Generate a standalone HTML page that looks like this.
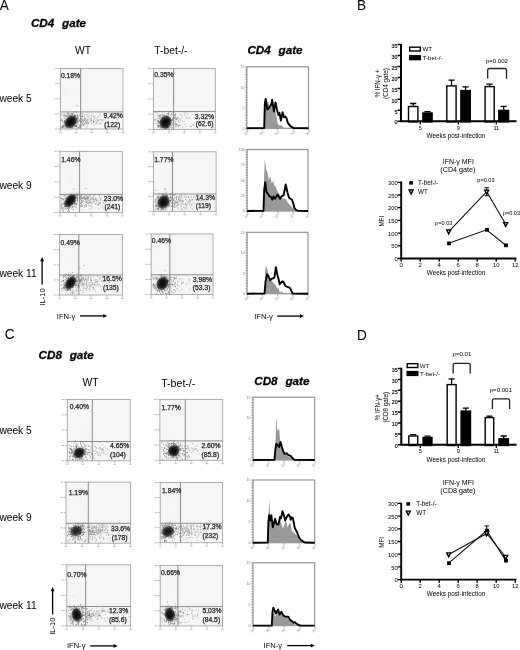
<!DOCTYPE html>
<html><head><meta charset="utf-8"><style>
html,body{margin:0;padding:0;background:#fff;}
body{width:520px;height:650px;overflow:hidden;}
svg{display:block;filter:blur(0.4px);font-family:"Liberation Sans",sans-serif;}
</style></head><body>
<svg width="520" height="650" viewBox="0 0 520 650">
<defs>
<radialGradient id="halo" cx="0.5" cy="0.5" r="0.5">
<stop offset="0" stop-color="#555" stop-opacity="0.7"/>
<stop offset="0.5" stop-color="#777" stop-opacity="0.35"/>
<stop offset="1" stop-color="#999" stop-opacity="0"/>
</radialGradient>
<radialGradient id="blob" cx="0.5" cy="0.5" r="0.5">
<stop offset="0" stop-color="#000" stop-opacity="1"/>
<stop offset="0.5" stop-color="#0a0a0a" stop-opacity="0.95"/>
<stop offset="0.8" stop-color="#222" stop-opacity="0.7"/>
<stop offset="1" stop-color="#333" stop-opacity="0.1"/>
</radialGradient>
</defs>
<text transform="translate(-0.2,9.5) scale(1,1.1)" font-size="13.6">A</text>
<text transform="translate(357.1,9.8) scale(1,1.1)" font-size="13.6">B</text>
<text transform="translate(4.7,339.2) scale(1,1.1)" font-size="13.6">C</text>
<text transform="translate(356.9,339.8) scale(1,1.1)" font-size="13.6">D</text>
<text x="30.9" y="27.2" font-size="11.7" font-weight="bold" font-style="italic" stroke="#000" stroke-width="0.3">CD4<tspan dx="1.3">&#160;&#160;gate</tspan></text>
<text x="38.5" y="359.4" font-size="11.7" font-weight="bold" font-style="italic" stroke="#000" stroke-width="0.3">CD8<tspan dx="1.3">&#160;&#160;gate</tspan></text>
<text x="247.4" y="53.6" font-size="11.7" font-weight="bold" font-style="italic" stroke="#000" stroke-width="0.3">CD4<tspan dx="1.3">&#160;&#160;gate</tspan></text>
<text x="254.2" y="384.8" font-size="11.7" font-weight="bold" font-style="italic" stroke="#000" stroke-width="0.3">CD8<tspan dx="1.3">&#160;&#160;gate</tspan></text>
<text x="75.0" y="53.8" font-size="10.3">WT</text>
<text x="154.3" y="54.4" font-size="10.3">T-bet-/-</text>
<text x="82.5" y="386.3" font-size="10.3">WT</text>
<text x="161.2" y="386.9" font-size="10.6">T-bet-/-</text>
<text x="-0.6" y="101.9" font-size="10.2">week 5</text>
<text x="-0.6" y="189.0" font-size="10.2">week 9</text>
<text x="-0.6" y="277.0" font-size="10.2">week 11</text>
<text x="-0.6" y="434.0" font-size="10.2">week 5</text>
<text x="-0.6" y="520.7" font-size="10.2">week 9</text>
<text x="-0.6" y="609.4" font-size="10.2">week 11</text>
<path d="M42.1,284.6V260.0" stroke="#000" stroke-width="1.3"/>
<path d="M40.2,261.3L42.1,257.0L44.0,261.3Z" fill="#000"/>
<text transform="translate(44.6,297.0) rotate(-90)" font-size="7.6" text-anchor="middle">IL-10</text>
<text x="56.8" y="318.6" font-size="7.6">IFN-&#947;</text>
<path d="M80.0,315.9H104.2" stroke="#000" stroke-width="1.3"/>
<path d="M103.2,314.0L107.2,315.9L103.2,317.8Z" fill="#000"/>
<text x="254.2" y="318.8" font-size="7.6">IFN-&#947;</text>
<path d="M277.2,316.1H301.0" stroke="#000" stroke-width="1.3"/>
<path d="M300.0,314.2L304.0,316.1L300.0,318.0Z" fill="#000"/>
<path d="M52.6,614.4V590.0" stroke="#000" stroke-width="1.3"/>
<path d="M50.7,591.3L52.6,587.0L54.5,591.3Z" fill="#000"/>
<text transform="translate(54.6,626.2) rotate(-90)" font-size="7.6" text-anchor="middle">IL-10</text>
<text x="66.9" y="648.4" font-size="7.6">IFN-&#947;</text>
<path d="M90.2,645.9H114.6" stroke="#000" stroke-width="1.3"/>
<path d="M113.6,644.0L117.6,645.9L113.6,647.8Z" fill="#000"/>
<text x="263.6" y="648.2" font-size="7.6">IFN-&#947;</text>
<path d="M287.3,645.6H311.8" stroke="#000" stroke-width="1.3"/>
<path d="M310.8,643.7L314.8,645.6L310.8,647.5Z" fill="#000"/>
<rect x="60.4" y="68.6" width="62.6" height="60.4" fill="#f6f6f6" stroke="#a0a0a0" stroke-width="0.85"/>
<path d="M58.2,129.0h2.2M54.8,129.0h2.6" stroke="#aaa" stroke-width="0.8"/>
<path d="M60.4,129.0v2.2M59.1,132.4h2.6" stroke="#aaa" stroke-width="0.8"/>
<path d="M58.2,113.9h2.2M54.8,113.9h2.6" stroke="#aaa" stroke-width="0.8"/>
<path d="M76.0,129.0v2.2M74.8,132.4h2.6" stroke="#aaa" stroke-width="0.8"/>
<path d="M58.2,98.8h2.2M54.8,98.8h2.6" stroke="#aaa" stroke-width="0.8"/>
<path d="M91.7,129.0v2.2M90.4,132.4h2.6" stroke="#aaa" stroke-width="0.8"/>
<path d="M58.2,83.7h2.2M54.8,83.7h2.6" stroke="#aaa" stroke-width="0.8"/>
<path d="M107.3,129.0v2.2M106.0,132.4h2.6" stroke="#aaa" stroke-width="0.8"/>
<path d="M58.2,68.6h2.2M54.8,68.6h2.6" stroke="#aaa" stroke-width="0.8"/>
<path d="M123.0,129.0v2.2M121.7,132.4h2.6" stroke="#aaa" stroke-width="0.8"/>
<path d="M95.6,124.1h0.75M82.0,115.5h0.75M86.0,122.6h0.75M105.4,123.2h0.75M88.5,122.0h0.75M91.4,123.0h0.75M84.1,120.1h0.75M83.8,123.2h0.75M82.7,119.6h0.75M87.3,119.8h0.75M116.9,119.7h0.75M93.2,124.9h0.75M108.6,113.1h0.75M85.5,119.1h0.75M83.1,121.7h0.75M84.2,116.3h0.75M105.4,123.5h0.75M99.4,114.1h0.75M81.8,121.2h0.75M88.7,117.0h0.75M96.8,121.2h0.75M84.6,118.7h0.75M100.6,124.4h0.75M111.4,117.5h0.75M85.7,118.8h0.75M81.4,116.4h0.75M92.8,120.7h0.75M90.5,119.5h0.75M81.1,121.9h0.75M88.1,116.3h0.75M84.8,118.9h0.75M85.3,123.9h0.75M91.2,117.5h0.75M82.9,121.8h0.75M99.6,119.4h0.75M91.2,120.4h0.75M88.0,124.0h0.75M111.7,114.2h0.75M98.3,124.4h0.75M113.2,118.2h0.75M100.2,122.6h0.75M82.5,124.4h0.75M91.0,120.4h0.75M84.3,125.1h0.75M90.3,120.2h0.75M86.1,115.0h0.75M107.8,118.1h0.75M83.2,120.3h0.75M114.0,125.8h0.75M94.1,117.2h0.75M101.0,120.3h0.75M85.0,121.4h0.75M86.1,120.9h0.75M85.8,122.7h0.75M85.9,123.5h0.75M119.2,114.6h0.75M113.1,123.3h0.75M87.4,116.7h0.75M85.3,123.2h0.75M91.2,118.7h0.75M91.2,123.0h0.75M107.5,121.9h0.75M97.8,116.9h0.75M94.8,116.2h0.75M107.7,126.7h0.75M82.2,120.6h0.75M93.5,119.1h0.75M96.3,122.5h0.75M83.2,116.1h0.75M95.7,118.4h0.75M97.4,117.1h0.75M85.9,127.4h0.75M108.3,121.5h0.75M102.6,120.8h0.75M84.8,119.8h0.75M87.0,121.7h0.75M104.3,123.5h0.75M107.9,121.7h0.75M91.5,120.3h0.75M93.2,121.2h0.75M107.5,121.5h0.75M86.5,124.2h0.75M90.8,116.0h0.75M87.3,126.2h0.75M105.5,121.5h0.75M92.9,116.2h0.75M89.9,121.2h0.75M93.0,121.5h0.75M81.6,125.8h0.75M84.4,114.2h0.75M85.0,121.5h0.75M93.3,116.5h0.75M92.6,122.3h0.75M98.3,120.7h0.75M87.9,119.6h0.75M89.7,118.2h0.75M82.7,118.5h0.75M114.0,116.0h0.75M84.2,120.0h0.75M82.6,121.0h0.75M84.0,123.9h0.75M97.8,120.2h0.75M84.0,118.7h0.75M96.3,122.9h0.75M111.2,117.8h0.75M93.4,122.4h0.75M93.6,121.9h0.75M83.3,123.9h0.75M81.8,116.2h0.75M87.3,120.1h0.75M87.6,114.3h0.75M114.0,118.3h0.75M87.8,123.3h0.75M93.6,122.1h0.75M85.9,120.6h0.75M81.3,117.8h0.75M81.6,118.9h0.75M95.3,121.1h0.75M81.7,119.9h0.75M82.1,116.6h0.75M99.9,115.3h0.75M81.1,124.5h0.75M81.7,122.2h0.75M84.3,117.8h0.75M84.6,120.6h0.75M88.0,123.4h0.75M93.9,119.0h0.75M97.6,122.8h0.75M88.5,122.6h0.75M81.3,118.1h0.75M101.3,119.9h0.75M111.3,124.9h0.75M117.6,124.0h0.75M84.8,121.9h0.75M99.6,123.5h0.75M102.6,119.5h0.75M98.2,120.2h0.75M105.3,117.9h0.75M97.3,119.6h0.75M96.7,120.8h0.75M83.3,124.7h0.75" stroke="#8c8c8c" stroke-width="0.75"/>
<ellipse cx="70.8" cy="121.8" rx="11.0" ry="8.2" transform="rotate(-45 70.8 121.8)" fill="url(#halo)"/>
<path d="M64.6,122.0h0.8M64.8,125.0h0.8M65.8,119.0h0.8M65.5,125.8h0.8M71.7,127.9h0.8M76.6,116.1h0.8M68.2,114.4h0.8M79.2,125.3h0.8M62.3,126.6h0.8M71.3,127.9h0.8M64.5,115.5h0.8M76.6,119.1h0.8M74.0,116.1h0.8M71.0,113.7h0.8M78.0,122.1h0.8M75.4,126.0h0.8M69.8,113.7h0.8M77.2,123.0h0.8M77.1,126.9h0.8M74.5,125.5h0.8M65.5,125.7h0.8M74.6,126.5h0.8M70.9,116.1h0.8M77.1,121.2h0.8M63.5,116.5h0.8M61.8,126.7h0.8M77.0,118.4h0.8M73.0,112.1h0.8M63.5,126.6h0.8M72.5,114.7h0.8M75.8,117.7h0.8M73.6,114.4h0.8M76.4,112.4h0.8M80.3,113.6h0.8M81.4,121.4h0.8M76.5,118.7h0.8M83.2,125.3h0.8M74.4,116.1h0.8M78.6,127.7h0.8M76.1,126.6h0.8M80.0,113.2h0.8M81.6,116.3h0.8M69.7,116.3h0.8M65.1,116.2h0.8M77.3,118.2h0.8M76.7,114.9h0.8M62.2,121.5h0.8M75.8,125.1h0.8M65.8,116.5h0.8M61.9,126.1h0.8M67.7,113.0h0.8M87.1,122.6h0.8M62.1,126.2h0.8M67.5,115.8h0.8M80.7,125.9h0.8M80.6,119.4h0.8M74.6,125.4h0.8M74.6,126.5h0.8M69.1,115.4h0.8M76.0,125.7h0.8M63.0,125.4h0.8M61.3,120.1h0.8M80.6,121.8h0.8M79.6,120.0h0.8M64.7,113.9h0.8M79.8,126.8h0.8M77.5,121.6h0.8M63.6,114.3h0.8M74.6,115.9h0.8M65.8,127.5h0.8M63.8,118.2h0.8M61.6,127.6h0.8M66.8,114.0h0.8M81.8,113.7h0.8M79.3,127.2h0.8M61.7,127.0h0.8M76.5,105.5h0.8M74.4,116.4h0.8M77.2,120.8h0.8M79.5,125.9h0.8M64.2,122.1h0.8M91.5,114.9h0.8M72.2,113.6h0.8M75.1,125.8h0.8M61.8,120.1h0.8M63.4,125.2h0.8M61.8,127.3h0.8M78.1,128.1h0.8M75.7,125.6h0.8M62.4,114.1h0.8M71.9,114.2h0.8M70.5,115.0h0.8M69.4,115.0h0.8M79.3,115.2h0.8M75.0,111.5h0.8M71.5,127.3h0.8M77.8,118.3h0.8M74.6,115.7h0.8M70.9,116.2h0.8M79.7,114.9h0.8M82.1,123.5h0.8M72.7,127.7h0.8M63.5,122.5h0.8M64.0,121.3h0.8M79.2,120.3h0.8M77.1,115.3h0.8M68.0,116.3h0.8M67.3,112.3h0.8M64.1,120.4h0.8M77.7,119.1h0.8M77.3,116.3h0.8M62.8,126.9h0.8M78.0,116.9h0.8M66.3,115.4h0.8M78.0,127.0h0.8M78.9,120.6h0.8M61.4,120.1h0.8M63.8,115.5h0.8M61.4,115.1h0.8M63.9,121.8h0.8M76.2,128.2h0.8M63.6,127.0h0.8M76.1,126.7h0.8M65.8,126.3h0.8M74.9,115.6h0.8M66.8,116.1h0.8M77.6,124.5h0.8M67.5,113.1h0.8M68.4,117.1h0.8" stroke="#6a6a6a" stroke-width="0.8"/>
<path d="M62.7,93.4h0.6M63.2,87.8h0.6M66.1,90.3h0.6M64.6,94.4h0.6M74.2,90.5h0.6M78.3,105.8h0.6" stroke="#c8c8c8" stroke-width="0.6"/>
<ellipse cx="70.8" cy="121.8" rx="7.8" ry="5.8" transform="rotate(-45 70.8 121.8)" fill="url(#blob)" fill-opacity="1.0"/>
<path d="M68.5,123.2h0.8M68.0,119.8h0.8M73.9,118.5h0.8M74.1,123.1h0.8M68.2,118.5h0.8M71.9,117.1h0.8M66.9,125.3h0.8M75.9,122.3h0.8M69.4,127.2h0.8M69.3,121.4h0.8M72.6,121.7h0.8M70.3,122.7h0.8M72.1,125.1h0.8M71.1,118.9h0.8M73.8,121.9h0.8M67.3,120.3h0.8M73.9,119.0h0.8M65.5,122.1h0.8M68.8,124.2h0.8M69.2,119.8h0.8M66.2,125.1h0.8M69.7,124.9h0.8M70.0,120.8h0.8M70.3,123.3h0.8M74.4,122.8h0.8M72.7,122.0h0.8M71.3,116.3h0.8M71.5,124.9h0.8M72.8,121.1h0.8M71.0,125.8h0.8M74.7,119.8h0.8M73.0,125.6h0.8M74.8,123.3h0.8M67.1,125.9h0.8M70.1,127.0h0.8M75.8,118.7h0.8M71.4,123.0h0.8M68.4,124.8h0.8M71.3,123.6h0.8M73.0,117.0h0.8M69.5,120.8h0.8M73.6,116.7h0.8M72.0,118.2h0.8M68.5,121.7h0.8M67.1,122.9h0.8M74.7,119.0h0.8M75.1,122.0h0.8M69.4,118.7h0.8M66.6,121.7h0.8M71.7,117.8h0.8M70.3,118.4h0.8M66.0,122.5h0.8M70.1,118.2h0.8M68.4,125.2h0.8M72.8,123.8h0.8M70.0,118.3h0.8M67.5,120.4h0.8M66.3,123.5h0.8M72.2,121.8h0.8M66.3,123.0h0.8M68.4,117.9h0.8M72.0,126.1h0.8M67.5,119.9h0.8M72.9,120.4h0.8M69.5,125.4h0.8M69.9,121.3h0.8M66.7,124.4h0.8M72.4,124.6h0.8M66.2,123.6h0.8M72.2,126.4h0.8M72.0,120.8h0.8M69.7,123.5h0.8" stroke="#222" stroke-width="0.8" stroke-opacity="0.8"/>
<path d="M80.6,68.6V129.0M60.4,111.9H123.0" stroke="#7a7a7a" stroke-width="0.85"/>
<text x="60.9" y="77.8" font-size="6.8" fill="#222" stroke="#222" stroke-width="0.25">0.18%</text>
<text x="103.5" y="118.0" font-size="6.8" fill="#222" stroke="#222" stroke-width="0.25">9.42%</text>
<text x="104.3" y="126.6" font-size="6.8" fill="#222" stroke="#222" stroke-width="0.25">(122)</text>
<rect x="153.6" y="68.4" width="61.7" height="61.0" fill="#f6f6f6" stroke="#a0a0a0" stroke-width="0.85"/>
<path d="M151.4,129.4h2.2M148.0,129.4h2.6" stroke="#aaa" stroke-width="0.8"/>
<path d="M153.6,129.4v2.2M152.3,132.8h2.6" stroke="#aaa" stroke-width="0.8"/>
<path d="M151.4,114.2h2.2M148.0,114.2h2.6" stroke="#aaa" stroke-width="0.8"/>
<path d="M169.0,129.4v2.2M167.7,132.8h2.6" stroke="#aaa" stroke-width="0.8"/>
<path d="M151.4,98.9h2.2M148.0,98.9h2.6" stroke="#aaa" stroke-width="0.8"/>
<path d="M184.4,129.4v2.2M183.1,132.8h2.6" stroke="#aaa" stroke-width="0.8"/>
<path d="M151.4,83.7h2.2M148.0,83.7h2.6" stroke="#aaa" stroke-width="0.8"/>
<path d="M199.9,129.4v2.2M198.6,132.8h2.6" stroke="#aaa" stroke-width="0.8"/>
<path d="M151.4,68.4h2.2M148.0,68.4h2.6" stroke="#aaa" stroke-width="0.8"/>
<path d="M215.3,129.4v2.2M214.0,132.8h2.6" stroke="#aaa" stroke-width="0.8"/>
<path d="M175.7,119.1h0.75M190.2,126.1h0.75M177.3,124.6h0.75M180.7,119.0h0.75M198.7,120.0h0.75M186.4,117.9h0.75M179.9,120.9h0.75M196.1,118.7h0.75M175.0,117.5h0.75M175.2,122.1h0.75M198.6,123.0h0.75M184.5,124.6h0.75M187.0,114.4h0.75M181.4,114.9h0.75M176.9,121.8h0.75M192.6,124.4h0.75M199.6,122.5h0.75M179.0,125.0h0.75M181.7,116.7h0.75M180.3,125.4h0.75M190.0,126.9h0.75M177.5,126.1h0.75M184.7,115.3h0.75M185.9,126.5h0.75M179.3,125.5h0.75M178.6,122.5h0.75M177.7,118.0h0.75M178.4,120.5h0.75M184.4,113.6h0.75M174.6,124.1h0.75M179.6,114.8h0.75M191.1,126.4h0.75M182.3,127.7h0.75M181.9,121.0h0.75M205.3,117.5h0.75M206.8,122.8h0.75M175.6,120.1h0.75M192.6,125.1h0.75M174.2,118.1h0.75M174.2,117.5h0.75M175.4,126.2h0.75M212.9,117.8h0.75M179.4,118.5h0.75M189.3,117.8h0.75M183.8,121.5h0.75M185.6,118.3h0.75M187.5,117.8h0.75M212.8,120.2h0.75M178.3,125.1h0.75M174.8,119.4h0.75" stroke="#8c8c8c" stroke-width="0.75"/>
<ellipse cx="165.6" cy="122.3" rx="10.2" ry="8.8" transform="rotate(-60 165.6 122.3)" fill="url(#halo)"/>
<path d="M160.3,120.4h0.8M174.9,114.9h0.8M171.9,120.4h0.8M157.2,121.5h0.8M174.4,122.1h0.8M165.7,128.5h0.8M158.5,125.3h0.8M159.0,115.8h0.8M163.3,115.9h0.8M169.9,111.6h0.8M162.3,112.0h0.8M162.6,117.3h0.8M171.3,119.9h0.8M158.6,118.9h0.8M172.0,118.8h0.8M161.4,118.2h0.8M157.5,113.8h0.8M159.7,118.0h0.8M173.3,118.1h0.8M157.6,126.1h0.8M174.3,115.7h0.8M173.1,111.7h0.8M168.3,128.3h0.8M158.0,115.6h0.8M170.5,115.3h0.8M161.6,117.9h0.8M176.3,119.4h0.8M185.5,112.1h0.8M166.5,115.5h0.8M156.4,112.1h0.8M156.7,123.6h0.8M161.9,115.3h0.8M164.6,115.3h0.8M159.8,126.8h0.8M159.0,125.9h0.8M174.7,115.9h0.8M160.7,115.3h0.8M172.1,120.3h0.8M154.5,119.5h0.8M157.4,125.7h0.8M173.8,115.0h0.8M163.1,117.1h0.8M177.3,117.4h0.8M158.1,121.1h0.8M178.1,126.0h0.8M162.1,117.1h0.8M160.8,118.0h0.8M166.6,113.7h0.8M155.3,119.6h0.8M167.6,127.5h0.8M170.4,125.5h0.8M175.2,124.3h0.8M167.9,114.0h0.8M171.9,123.8h0.8M174.5,118.2h0.8M163.0,111.8h0.8M158.8,111.3h0.8M172.2,125.2h0.8M161.4,127.4h0.8M158.2,125.6h0.8M176.4,124.1h0.8M169.8,127.4h0.8M176.0,124.2h0.8M162.0,117.7h0.8M158.8,122.7h0.8M162.1,114.1h0.8M172.7,112.8h0.8M171.1,128.2h0.8M157.2,120.8h0.8M162.2,117.9h0.8M172.9,103.2h0.8M167.5,113.5h0.8M175.7,117.9h0.8M159.7,121.8h0.8M158.7,122.8h0.8M158.1,127.3h0.8M172.1,127.6h0.8M154.9,123.4h0.8M156.9,126.9h0.8M162.8,117.7h0.8M158.2,121.2h0.8M171.1,113.9h0.8M164.4,115.3h0.8M173.1,118.8h0.8M158.2,126.7h0.8M158.2,120.8h0.8M163.7,116.4h0.8M155.2,112.7h0.8M160.1,121.9h0.8M166.0,116.5h0.8M158.0,122.6h0.8M166.5,116.2h0.8M158.2,122.2h0.8M175.2,114.1h0.8M159.6,116.6h0.8M173.3,117.9h0.8M159.7,126.2h0.8M157.0,118.4h0.8M172.0,114.8h0.8M176.0,118.7h0.8M171.8,120.3h0.8M160.8,118.9h0.8M176.0,125.9h0.8M159.3,117.1h0.8M154.5,120.7h0.8M168.1,114.6h0.8M175.3,123.8h0.8M177.6,119.0h0.8M161.6,126.7h0.8M168.0,112.9h0.8M159.9,114.7h0.8M160.3,127.8h0.8M157.6,116.0h0.8M159.8,115.9h0.8M175.2,126.3h0.8M159.0,121.9h0.8M169.0,111.4h0.8" stroke="#6a6a6a" stroke-width="0.8"/>
<path d="M159.7,106.5h0.6M164.8,100.3h0.6M166.9,85.1h0.6M171.4,105.1h0.6M158.1,97.0h0.6M164.6,89.4h0.6" stroke="#c8c8c8" stroke-width="0.6"/>
<ellipse cx="165.6" cy="122.3" rx="7.2" ry="6.2" transform="rotate(-60 165.6 122.3)" fill="url(#blob)" fill-opacity="1.0"/>
<path d="M162.1,119.9h0.8M164.6,122.1h0.8M160.7,124.5h0.8M163.2,125.4h0.8M167.9,124.0h0.8M164.4,120.0h0.8M164.1,125.2h0.8M165.9,124.9h0.8M162.0,126.3h0.8M163.6,123.0h0.8M168.3,121.5h0.8M164.8,121.0h0.8M167.5,125.6h0.8M167.6,116.8h0.8M166.1,128.0h0.8M164.7,121.2h0.8M169.9,119.2h0.8M165.6,116.8h0.8M164.5,117.4h0.8M161.3,124.3h0.8M162.2,119.5h0.8M167.8,119.6h0.8M170.3,123.8h0.8M167.4,117.5h0.8M160.3,122.8h0.8M162.8,126.5h0.8M165.0,124.2h0.8M168.4,125.8h0.8M168.8,120.3h0.8M167.2,122.6h0.8M163.6,125.2h0.8M166.5,119.7h0.8M169.1,121.2h0.8M169.3,123.7h0.8M166.5,123.4h0.8M168.2,118.2h0.8M166.4,124.3h0.8M164.1,125.9h0.8M165.4,125.9h0.8M167.8,123.5h0.8M167.9,124.4h0.8M167.6,126.9h0.8M168.4,121.0h0.8M161.5,120.5h0.8M170.5,120.9h0.8M164.6,125.3h0.8M160.5,121.5h0.8M162.7,119.2h0.8M162.9,127.2h0.8M162.9,122.5h0.8M167.0,117.6h0.8M166.9,127.1h0.8M165.4,120.1h0.8M170.0,120.0h0.8M165.4,125.5h0.8M166.1,123.3h0.8M168.9,123.4h0.8M164.7,119.8h0.8M167.2,127.3h0.8M162.0,126.0h0.8M167.6,126.9h0.8M164.8,118.5h0.8M161.7,121.1h0.8M165.0,125.2h0.8M166.6,124.5h0.8M162.0,121.5h0.8M161.7,119.8h0.8M163.5,125.3h0.8M163.1,119.8h0.8M163.5,118.1h0.8M160.7,124.9h0.8M163.3,126.1h0.8M167.2,126.1h0.8M167.4,118.9h0.8M164.8,125.5h0.8M163.2,124.6h0.8M167.7,124.3h0.8M163.6,119.4h0.8M166.2,118.9h0.8M161.4,121.7h0.8M165.3,127.5h0.8M166.6,123.6h0.8M168.9,121.2h0.8M167.6,116.8h0.8" stroke="#222" stroke-width="0.8" stroke-opacity="0.8"/>
<path d="M173.6,68.4V129.4M153.6,111.6H215.3" stroke="#7a7a7a" stroke-width="0.85"/>
<text x="154.3" y="76.9" font-size="6.8" fill="#222" stroke="#222" stroke-width="0.25">0.35%</text>
<text x="194.8" y="118.6" font-size="6.8" fill="#222" stroke="#222" stroke-width="0.25">3.32%</text>
<text x="195.8" y="125.9" font-size="6.8" fill="#222" stroke="#222" stroke-width="0.25">(62.6)</text>
<rect x="60.0" y="151.3" width="62.5" height="61.2" fill="#f6f6f6" stroke="#a0a0a0" stroke-width="0.85"/>
<path d="M57.8,212.5h2.2M54.4,212.5h2.6" stroke="#aaa" stroke-width="0.8"/>
<path d="M60.0,212.5v2.2M58.7,215.9h2.6" stroke="#aaa" stroke-width="0.8"/>
<path d="M57.8,197.2h2.2M54.4,197.2h2.6" stroke="#aaa" stroke-width="0.8"/>
<path d="M75.6,212.5v2.2M74.3,215.9h2.6" stroke="#aaa" stroke-width="0.8"/>
<path d="M57.8,181.9h2.2M54.4,181.9h2.6" stroke="#aaa" stroke-width="0.8"/>
<path d="M91.2,212.5v2.2M90.0,215.9h2.6" stroke="#aaa" stroke-width="0.8"/>
<path d="M57.8,166.6h2.2M54.4,166.6h2.6" stroke="#aaa" stroke-width="0.8"/>
<path d="M106.9,212.5v2.2M105.6,215.9h2.6" stroke="#aaa" stroke-width="0.8"/>
<path d="M57.8,151.3h2.2M54.4,151.3h2.6" stroke="#aaa" stroke-width="0.8"/>
<path d="M122.5,212.5v2.2M121.2,215.9h2.6" stroke="#aaa" stroke-width="0.8"/>
<path d="M99.2,197.2h0.75M84.7,198.7h0.75M86.0,198.6h0.75M86.2,198.1h0.75M83.7,196.7h0.75M87.1,197.9h0.75M92.5,198.6h0.75M84.0,198.7h0.75M80.0,206.3h0.75M92.3,197.4h0.75M89.0,201.9h0.75M88.1,198.4h0.75M80.6,203.9h0.75M99.4,195.5h0.75M100.0,203.4h0.75M82.8,200.0h0.75M109.2,195.5h0.75M98.6,200.8h0.75M90.4,197.7h0.75M85.3,199.7h0.75M112.7,200.4h0.75M87.1,198.7h0.75M100.1,198.7h0.75M114.6,200.6h0.75M86.0,195.4h0.75M96.2,201.0h0.75M81.1,206.5h0.75M81.8,201.1h0.75M84.3,205.7h0.75M87.8,198.0h0.75M113.4,206.8h0.75M103.3,202.8h0.75M81.2,201.1h0.75M93.2,196.2h0.75M92.7,197.0h0.75M86.0,200.6h0.75M90.4,199.6h0.75M100.0,202.9h0.75M91.0,198.2h0.75M80.9,198.6h0.75M88.3,196.2h0.75M95.6,199.1h0.75M86.2,206.1h0.75M108.7,197.0h0.75M95.7,204.2h0.75M96.4,199.8h0.75M91.3,208.4h0.75M99.7,202.9h0.75M84.1,207.2h0.75M88.3,205.5h0.75M85.2,198.8h0.75M102.0,206.1h0.75M82.7,198.3h0.75M88.6,201.7h0.75M90.2,195.6h0.75M116.4,210.2h0.75M84.7,197.2h0.75M103.5,203.3h0.75M81.8,201.0h0.75M104.7,200.2h0.75M97.5,200.1h0.75M83.6,197.5h0.75M83.8,198.2h0.75M120.7,197.8h0.75M80.7,203.1h0.75M91.3,206.9h0.75M88.4,203.3h0.75M108.8,200.2h0.75M97.6,204.3h0.75M94.5,200.3h0.75M93.0,198.4h0.75M89.7,203.0h0.75M103.6,208.9h0.75M89.3,209.0h0.75M80.0,197.9h0.75M110.3,202.8h0.75M90.8,201.2h0.75M98.3,204.1h0.75M94.2,195.5h0.75M109.2,204.0h0.75M81.0,202.3h0.75M103.1,200.8h0.75M96.1,198.4h0.75M92.2,202.9h0.75M81.8,202.4h0.75M108.0,204.5h0.75M84.0,196.1h0.75M94.8,199.8h0.75M91.8,198.8h0.75M105.6,198.8h0.75M98.0,204.4h0.75M86.5,199.1h0.75M92.8,201.9h0.75M86.8,202.8h0.75M87.3,196.8h0.75M112.7,197.2h0.75M96.3,200.5h0.75M116.1,196.2h0.75M105.6,209.5h0.75M87.7,200.1h0.75M84.5,199.4h0.75M83.2,200.3h0.75M93.2,199.1h0.75M84.3,195.6h0.75M96.4,202.0h0.75M89.6,202.7h0.75M103.6,203.2h0.75M98.5,205.1h0.75M82.4,198.1h0.75M101.6,207.8h0.75M85.2,199.2h0.75M97.0,204.9h0.75M85.6,196.1h0.75M92.7,201.9h0.75M86.4,195.7h0.75M81.6,200.4h0.75M81.0,196.8h0.75M84.0,196.7h0.75M81.3,197.6h0.75M81.6,206.2h0.75M95.4,199.5h0.75M101.9,200.8h0.75M87.0,197.7h0.75M80.1,197.6h0.75M87.7,197.5h0.75M81.7,195.5h0.75M87.8,199.1h0.75M115.8,203.6h0.75M91.5,203.0h0.75M87.1,196.6h0.75M80.4,196.3h0.75M87.8,203.0h0.75M89.8,206.0h0.75M86.0,205.8h0.75M98.8,203.2h0.75M89.2,202.2h0.75M82.5,209.7h0.75M89.3,195.7h0.75M88.1,197.9h0.75M93.1,200.2h0.75M102.3,196.8h0.75M82.1,206.2h0.75M98.9,196.6h0.75M85.6,202.1h0.75M117.6,200.7h0.75M88.7,196.8h0.75M94.0,201.4h0.75M85.5,197.4h0.75M90.2,203.3h0.75M85.5,204.2h0.75M81.8,205.4h0.75M90.1,199.3h0.75M88.8,200.9h0.75M80.7,200.3h0.75M93.9,198.4h0.75M87.1,198.0h0.75M84.1,205.5h0.75M85.4,197.5h0.75M100.1,198.9h0.75M83.6,201.6h0.75M89.0,205.8h0.75M95.3,203.8h0.75M98.1,204.6h0.75M88.9,200.2h0.75M80.8,202.9h0.75M80.6,206.1h0.75M98.6,208.3h0.75M85.9,202.6h0.75M85.3,198.1h0.75M87.0,202.8h0.75M87.9,197.3h0.75M94.8,204.0h0.75M112.0,200.0h0.75M87.7,200.5h0.75M100.2,200.1h0.75M86.4,201.7h0.75M89.5,197.0h0.75M88.5,203.1h0.75M81.9,202.0h0.75M116.5,197.8h0.75M82.0,197.7h0.75M80.2,199.4h0.75M91.0,204.1h0.75M111.3,197.6h0.75M86.2,204.6h0.75M85.1,205.1h0.75M80.0,198.9h0.75M95.2,197.9h0.75M105.0,202.7h0.75M86.7,199.2h0.75M112.9,207.1h0.75M94.2,199.2h0.75M115.4,199.6h0.75M98.0,203.0h0.75M84.0,198.7h0.75M108.4,204.1h0.75M90.6,199.5h0.75M100.8,198.3h0.75M91.7,199.0h0.75M90.3,201.3h0.75M80.7,205.5h0.75M81.4,204.2h0.75M98.8,202.6h0.75M99.6,203.3h0.75M85.2,206.6h0.75M94.2,201.9h0.75M91.5,206.8h0.75M82.1,198.4h0.75M86.4,197.7h0.75M99.9,199.6h0.75M85.5,199.8h0.75M85.7,202.5h0.75M86.7,202.0h0.75M80.1,197.4h0.75M84.5,201.8h0.75M106.2,201.0h0.75" stroke="#8c8c8c" stroke-width="0.75"/>
<ellipse cx="70.2" cy="200.6" rx="11.6" ry="6.8" transform="rotate(-50 70.2 200.6)" fill="url(#halo)"/>
<path d="M64.6,205.1h0.8M65.9,197.3h0.8M81.3,198.9h0.8M72.2,206.9h0.8M64.8,204.5h0.8M62.1,198.5h0.8M78.4,194.8h0.8M74.0,204.0h0.8M65.4,205.9h0.8M70.1,194.6h0.8M72.5,206.7h0.8M78.9,197.6h0.8M63.8,202.8h0.8M76.2,198.8h0.8M71.1,194.0h0.8M76.8,194.8h0.8M64.6,198.1h0.8M61.5,194.8h0.8M71.7,194.5h0.8M73.4,194.8h0.8M68.2,206.7h0.8M61.4,205.3h0.8M76.0,195.0h0.8M67.6,194.1h0.8M64.3,206.6h0.8M63.8,203.4h0.8M74.7,206.6h0.8M79.2,198.3h0.8M62.0,207.9h0.8M79.3,200.8h0.8M69.2,207.4h0.8M85.7,188.5h0.8M82.4,197.8h0.8M62.6,208.3h0.8M62.7,199.9h0.8M78.3,194.2h0.8M64.3,195.8h0.8M69.1,211.2h0.8M64.8,208.7h0.8M67.3,196.9h0.8M75.6,200.5h0.8M69.1,207.9h0.8M65.2,206.6h0.8M73.7,189.0h0.8M60.9,208.2h0.8M61.8,208.1h0.8M76.0,204.8h0.8M61.1,204.8h0.8M75.8,207.7h0.8M65.7,198.9h0.8M62.4,210.8h0.8M80.1,196.3h0.8M63.5,210.0h0.8M63.7,195.6h0.8M63.2,210.7h0.8M63.1,203.8h0.8M66.6,207.9h0.8M65.9,206.1h0.8M68.3,210.1h0.8M80.2,203.5h0.8M65.4,195.6h0.8M61.6,199.8h0.8M65.8,198.5h0.8M79.6,194.0h0.8M61.0,198.4h0.8M64.6,203.5h0.8M77.4,201.8h0.8M68.0,208.2h0.8M61.0,205.0h0.8M61.5,207.3h0.8M73.6,206.1h0.8M74.7,203.4h0.8M63.3,199.5h0.8M69.9,206.5h0.8M71.6,207.5h0.8M61.8,203.5h0.8M77.2,200.3h0.8M77.2,199.0h0.8M76.0,205.0h0.8M76.5,203.7h0.8M68.2,209.5h0.8M70.0,195.3h0.8M69.0,194.9h0.8M74.4,202.0h0.8M68.6,206.4h0.8M63.8,201.2h0.8M66.8,208.5h0.8M64.7,203.5h0.8M82.7,197.8h0.8M75.6,203.2h0.8M77.0,197.3h0.8M65.6,205.8h0.8M76.6,198.2h0.8M66.4,198.1h0.8M71.6,208.3h0.8M73.1,209.7h0.8M69.7,206.3h0.8M76.3,195.5h0.8M77.6,198.1h0.8M70.0,195.0h0.8M64.2,206.1h0.8M76.6,193.3h0.8M68.2,210.9h0.8M68.9,208.2h0.8M75.1,204.1h0.8M77.0,195.1h0.8M80.7,196.3h0.8M75.7,197.3h0.8M67.3,211.4h0.8M75.6,203.3h0.8M75.0,201.1h0.8M68.7,196.0h0.8M77.5,199.9h0.8M80.9,195.4h0.8M68.4,196.3h0.8M74.9,203.3h0.8M74.1,203.3h0.8M76.6,195.9h0.8" stroke="#6a6a6a" stroke-width="0.8"/>
<path d="M76.9,190.0h0.6M71.3,179.2h0.6M67.5,180.4h0.6M69.6,182.2h0.6M77.8,185.3h0.6M64.3,168.3h0.6" stroke="#c8c8c8" stroke-width="0.6"/>
<ellipse cx="70.2" cy="200.6" rx="8.2" ry="4.8" transform="rotate(-50 70.2 200.6)" fill="url(#blob)" fill-opacity="1.0"/>
<path d="M72.6,200.8h0.8M69.9,203.0h0.8M70.3,203.2h0.8M74.1,201.3h0.8M69.3,199.0h0.8M72.5,203.9h0.8M73.9,201.6h0.8M73.8,199.0h0.8M69.0,205.5h0.8M69.4,204.1h0.8M71.7,204.1h0.8M71.3,201.4h0.8M65.7,203.9h0.8M73.7,201.2h0.8M69.6,200.3h0.8M70.5,199.3h0.8M69.7,197.6h0.8M69.3,204.7h0.8M68.9,199.1h0.8M69.4,200.6h0.8M68.4,199.3h0.8M72.6,203.7h0.8M69.9,198.7h0.8M67.8,204.0h0.8M74.2,195.3h0.8M74.7,200.7h0.8M73.9,197.9h0.8M69.4,200.5h0.8M70.8,202.4h0.8M71.7,199.8h0.8M74.0,198.4h0.8M68.7,199.6h0.8M67.0,200.8h0.8M66.5,202.5h0.8M73.4,195.3h0.8M71.9,198.0h0.8M68.1,204.1h0.8M69.1,200.2h0.8M70.7,196.4h0.8M66.5,203.4h0.8M74.7,197.5h0.8M72.2,202.0h0.8M69.5,198.0h0.8M71.7,199.9h0.8M74.5,197.2h0.8M68.7,202.9h0.8M74.5,197.3h0.8M69.5,201.1h0.8M68.0,206.0h0.8M72.0,202.2h0.8M71.6,200.5h0.8M66.5,205.7h0.8M74.0,202.1h0.8M74.1,196.6h0.8M65.4,202.2h0.8M67.8,198.3h0.8M72.1,203.7h0.8M69.8,205.4h0.8M70.6,201.2h0.8M71.6,200.2h0.8M68.3,205.6h0.8M72.2,199.5h0.8M68.3,201.5h0.8M69.2,202.9h0.8M73.9,199.5h0.8M70.3,196.4h0.8M70.3,205.2h0.8M67.4,198.0h0.8M68.5,203.1h0.8M67.7,206.4h0.8M69.6,200.9h0.8M73.5,200.6h0.8M70.2,196.4h0.8M68.9,203.1h0.8M72.2,197.7h0.8M69.7,196.1h0.8M69.8,197.5h0.8M71.5,197.3h0.8M71.7,203.0h0.8M70.8,202.1h0.8M66.9,200.0h0.8M67.6,203.6h0.8" stroke="#222" stroke-width="0.8" stroke-opacity="0.8"/>
<path d="M79.6,151.3V212.5M60.0,194.4H122.5" stroke="#7a7a7a" stroke-width="0.85"/>
<text x="61.2" y="162.0" font-size="6.8" fill="#222" stroke="#222" stroke-width="0.25">1.46%</text>
<text x="103.7" y="200.5" font-size="6.8" fill="#222" stroke="#222" stroke-width="0.25">23.0%</text>
<text x="104.5" y="208.7" font-size="6.8" fill="#222" stroke="#222" stroke-width="0.25">(241)</text>
<rect x="153.5" y="151.8" width="62.6" height="59.5" fill="#f6f6f6" stroke="#a0a0a0" stroke-width="0.85"/>
<path d="M151.3,211.3h2.2M147.9,211.3h2.6" stroke="#aaa" stroke-width="0.8"/>
<path d="M153.5,211.3v2.2M152.2,214.7h2.6" stroke="#aaa" stroke-width="0.8"/>
<path d="M151.3,196.4h2.2M147.9,196.4h2.6" stroke="#aaa" stroke-width="0.8"/>
<path d="M169.2,211.3v2.2M167.8,214.7h2.6" stroke="#aaa" stroke-width="0.8"/>
<path d="M151.3,181.6h2.2M147.9,181.6h2.6" stroke="#aaa" stroke-width="0.8"/>
<path d="M184.8,211.3v2.2M183.5,214.7h2.6" stroke="#aaa" stroke-width="0.8"/>
<path d="M151.3,166.7h2.2M147.9,166.7h2.6" stroke="#aaa" stroke-width="0.8"/>
<path d="M200.4,211.3v2.2M199.1,214.7h2.6" stroke="#aaa" stroke-width="0.8"/>
<path d="M151.3,151.8h2.2M147.9,151.8h2.6" stroke="#aaa" stroke-width="0.8"/>
<path d="M216.1,211.3v2.2M214.8,214.7h2.6" stroke="#aaa" stroke-width="0.8"/>
<path d="M186.0,200.8h0.75M181.5,201.4h0.75M182.6,201.8h0.75M185.8,207.3h0.75M173.5,202.9h0.75M189.3,199.4h0.75M178.6,198.1h0.75M174.4,206.9h0.75M207.7,200.8h0.75M182.7,204.0h0.75M175.8,199.4h0.75M188.1,201.5h0.75M189.0,204.8h0.75M188.2,197.5h0.75M199.2,204.7h0.75M180.5,203.9h0.75M174.8,197.9h0.75M178.6,197.5h0.75M190.9,199.8h0.75M181.4,209.3h0.75M173.3,199.6h0.75M175.8,196.9h0.75M182.3,200.9h0.75M181.4,195.4h0.75M180.6,199.3h0.75M174.2,204.3h0.75M206.9,205.2h0.75M174.5,200.7h0.75M185.7,196.7h0.75M174.2,197.6h0.75M185.2,209.3h0.75M179.5,195.9h0.75M185.4,199.4h0.75M184.1,197.4h0.75M208.1,196.8h0.75M185.1,204.1h0.75M190.7,196.5h0.75M176.2,198.3h0.75M174.2,197.6h0.75M188.6,200.8h0.75M191.2,206.0h0.75M186.6,196.6h0.75M176.4,205.5h0.75M177.4,200.6h0.75M200.8,200.3h0.75M191.3,204.0h0.75M177.1,204.1h0.75M181.6,202.9h0.75M183.2,201.6h0.75M180.9,200.8h0.75M185.7,197.0h0.75M189.6,200.1h0.75M182.1,210.1h0.75M176.1,201.3h0.75M182.7,200.3h0.75M174.4,201.9h0.75M174.1,203.3h0.75M180.6,197.3h0.75M175.9,199.7h0.75M211.4,196.2h0.75M184.6,204.9h0.75M192.6,200.8h0.75M188.2,197.3h0.75M209.9,204.1h0.75M183.6,204.2h0.75M179.3,200.1h0.75M205.4,200.7h0.75M175.9,198.1h0.75M178.1,204.8h0.75M181.5,208.6h0.75M214.1,207.7h0.75M188.8,199.0h0.75M181.1,206.3h0.75M185.0,203.6h0.75M173.2,206.7h0.75M180.9,195.7h0.75M177.9,201.5h0.75M177.5,203.9h0.75M173.6,205.1h0.75M192.0,199.3h0.75M179.6,195.5h0.75M179.8,199.9h0.75M193.4,197.0h0.75M186.5,205.4h0.75M178.9,202.9h0.75M178.3,197.2h0.75M183.2,207.4h0.75M207.7,205.6h0.75M192.3,199.4h0.75M184.0,195.2h0.75M178.5,201.6h0.75M195.1,198.8h0.75M193.8,197.6h0.75M189.4,201.3h0.75M187.7,203.3h0.75M177.8,208.4h0.75M193.7,203.0h0.75M182.6,196.0h0.75M182.0,200.6h0.75M188.7,202.8h0.75M186.1,204.3h0.75M173.3,199.8h0.75M191.8,204.3h0.75M175.5,205.2h0.75M180.0,201.2h0.75M185.6,205.8h0.75M189.6,204.2h0.75M191.8,208.8h0.75M172.9,206.1h0.75M177.3,203.4h0.75M184.0,208.1h0.75M177.9,199.1h0.75M175.4,202.4h0.75M203.3,199.8h0.75M198.8,200.4h0.75M187.9,196.9h0.75M190.4,207.2h0.75M174.0,204.8h0.75M175.0,202.4h0.75M186.9,208.2h0.75M194.5,196.2h0.75M190.7,197.4h0.75M181.5,203.8h0.75M176.5,206.7h0.75M180.4,200.3h0.75M189.8,201.6h0.75M185.5,207.8h0.75M177.2,196.6h0.75M186.1,204.6h0.75M185.5,199.4h0.75M195.9,200.7h0.75M187.6,201.6h0.75M179.8,196.6h0.75M179.6,198.0h0.75M174.2,195.7h0.75M177.5,207.3h0.75M190.6,200.8h0.75M173.1,198.5h0.75M196.7,198.2h0.75M198.4,201.1h0.75M204.1,206.7h0.75M178.0,199.7h0.75M178.0,198.9h0.75M205.1,201.6h0.75M173.4,195.4h0.75M174.6,205.8h0.75M176.6,202.5h0.75M177.1,202.2h0.75M179.1,200.7h0.75M177.5,205.2h0.75M186.6,203.1h0.75M180.3,205.3h0.75" stroke="#8c8c8c" stroke-width="0.75"/>
<ellipse cx="163.6" cy="201.8" rx="10.5" ry="8.8" transform="rotate(-60 163.6 201.8)" fill="url(#halo)"/>
<path d="M154.5,202.0h0.8M162.5,208.9h0.8M155.4,190.3h0.8M156.8,196.8h0.8M155.9,199.1h0.8M165.1,195.8h0.8M157.8,205.8h0.8M171.7,201.7h0.8M161.4,208.5h0.8M164.4,189.4h0.8M171.2,206.1h0.8M159.9,210.0h0.8M157.2,205.8h0.8M163.5,208.3h0.8M155.4,205.2h0.8M157.5,202.8h0.8M157.9,208.3h0.8M155.7,205.2h0.8M157.2,196.6h0.8M161.7,193.8h0.8M170.0,201.4h0.8M169.9,200.3h0.8M170.7,206.3h0.8M170.5,197.5h0.8M166.5,207.4h0.8M166.3,193.7h0.8M157.6,198.7h0.8M160.4,207.8h0.8M165.4,194.5h0.8M157.7,208.0h0.8M170.1,196.4h0.8M170.3,197.4h0.8M168.2,205.7h0.8M160.7,208.0h0.8M181.6,197.8h0.8M167.0,195.7h0.8M165.7,192.1h0.8M162.6,195.6h0.8M155.5,206.1h0.8M165.1,209.8h0.8M157.7,209.7h0.8M157.2,208.4h0.8M169.3,206.2h0.8M162.2,207.8h0.8M162.7,194.8h0.8M170.6,193.1h0.8M168.3,206.1h0.8M165.5,208.4h0.8M173.7,203.5h0.8M166.9,196.4h0.8M174.6,207.2h0.8M169.9,200.5h0.8M173.4,200.6h0.8M155.8,205.9h0.8M158.5,207.8h0.8M160.9,208.0h0.8M158.3,193.7h0.8M158.4,199.8h0.8M162.3,209.7h0.8M171.4,203.6h0.8M156.8,197.7h0.8M156.9,203.8h0.8M158.2,209.0h0.8M157.9,209.9h0.8M158.1,197.3h0.8M171.0,199.9h0.8M158.3,199.6h0.8M170.2,194.6h0.8M165.1,189.0h0.8M155.7,206.4h0.8M174.7,194.3h0.8M170.7,197.3h0.8M158.0,206.6h0.8M162.7,193.8h0.8M159.1,206.8h0.8M175.9,197.0h0.8M167.0,195.5h0.8M172.5,195.5h0.8M155.9,208.4h0.8M169.8,198.2h0.8M157.9,200.5h0.8M169.6,200.7h0.8M158.2,197.3h0.8M169.3,194.7h0.8M155.4,202.1h0.8M174.9,201.1h0.8M162.7,195.8h0.8M159.9,196.7h0.8M171.4,198.0h0.8M163.2,209.4h0.8M170.9,194.6h0.8M158.4,196.0h0.8M172.5,202.7h0.8M173.4,194.7h0.8M154.8,199.7h0.8M157.6,205.5h0.8M155.5,200.5h0.8M161.3,194.1h0.8M166.1,195.5h0.8M155.8,203.9h0.8M169.0,204.4h0.8M163.3,194.9h0.8M175.4,203.1h0.8M161.3,209.6h0.8M159.0,205.7h0.8M176.0,202.6h0.8M169.1,203.0h0.8M165.8,194.6h0.8M155.1,209.8h0.8M168.0,205.0h0.8M157.4,202.1h0.8M155.7,206.5h0.8" stroke="#6a6a6a" stroke-width="0.8"/>
<path d="M164.5,178.2h0.6M157.5,190.6h0.6M169.5,167.0h0.6M160.3,169.0h0.6M162.4,176.2h0.6M170.6,182.7h0.6" stroke="#c8c8c8" stroke-width="0.6"/>
<ellipse cx="163.6" cy="201.8" rx="7.4" ry="6.2" transform="rotate(-60 163.6 201.8)" fill="url(#blob)" fill-opacity="1.0"/>
<path d="M165.2,197.3h0.8M165.7,196.9h0.8M166.2,205.7h0.8M158.5,204.0h0.8M163.5,202.0h0.8M162.4,202.8h0.8M162.4,206.9h0.8M162.6,199.9h0.8M164.6,199.8h0.8M159.4,205.2h0.8M164.9,203.2h0.8M160.7,204.6h0.8M160.0,200.9h0.8M165.8,204.2h0.8M163.0,205.0h0.8M159.4,205.3h0.8M159.4,198.9h0.8M162.7,203.1h0.8M159.8,201.8h0.8M167.8,202.4h0.8M163.4,204.2h0.8M162.7,200.3h0.8M162.4,202.5h0.8M164.0,204.0h0.8M164.4,204.8h0.8M167.6,197.6h0.8M161.3,205.2h0.8M159.8,201.5h0.8M167.2,200.0h0.8M162.4,198.7h0.8M165.9,203.7h0.8M159.7,200.4h0.8M165.0,200.9h0.8M163.6,198.4h0.8M164.8,203.9h0.8M165.9,201.3h0.8M163.2,204.1h0.8M165.5,197.8h0.8M160.8,197.2h0.8M165.7,203.3h0.8M160.2,201.0h0.8M160.8,201.6h0.8M164.8,206.7h0.8M162.2,205.5h0.8M165.7,200.0h0.8M159.9,203.7h0.8M164.4,203.9h0.8M166.2,202.1h0.8M161.6,199.5h0.8M164.6,197.8h0.8M162.0,204.4h0.8M167.7,204.8h0.8M162.1,204.7h0.8M168.5,200.7h0.8M163.6,202.0h0.8M164.2,199.3h0.8M166.1,199.7h0.8M168.5,202.7h0.8M162.3,199.1h0.8M164.3,200.4h0.8M163.3,205.5h0.8M163.5,200.7h0.8M162.5,198.0h0.8M167.3,201.8h0.8M158.9,200.7h0.8M162.8,202.5h0.8M167.0,204.6h0.8M165.6,206.5h0.8M166.9,205.0h0.8M160.1,203.3h0.8M163.9,204.9h0.8M165.0,197.9h0.8M165.6,201.2h0.8M160.2,204.0h0.8M165.4,196.9h0.8M160.8,202.2h0.8M165.2,202.9h0.8M164.9,200.8h0.8M160.4,203.9h0.8M158.7,202.6h0.8M163.9,196.6h0.8M160.3,206.0h0.8M159.3,203.0h0.8M162.9,201.6h0.8M161.8,197.4h0.8" stroke="#222" stroke-width="0.8" stroke-opacity="0.8"/>
<path d="M172.5,151.8V211.3M153.5,194.0H216.1" stroke="#7a7a7a" stroke-width="0.85"/>
<text x="154.2" y="161.6" font-size="6.8" fill="#222" stroke="#222" stroke-width="0.25">1.77%</text>
<text x="195.7" y="200.2" font-size="6.8" fill="#222" stroke="#222" stroke-width="0.25">14.3%</text>
<text x="195.7" y="208.0" font-size="6.8" fill="#222" stroke="#222" stroke-width="0.25">(119)</text>
<rect x="59.5" y="234.5" width="63.0" height="60.5" fill="#f6f6f6" stroke="#a0a0a0" stroke-width="0.85"/>
<path d="M57.3,295.0h2.2M53.9,295.0h2.6" stroke="#aaa" stroke-width="0.8"/>
<path d="M59.5,295.0v2.2M58.2,298.4h2.6" stroke="#aaa" stroke-width="0.8"/>
<path d="M57.3,279.9h2.2M53.9,279.9h2.6" stroke="#aaa" stroke-width="0.8"/>
<path d="M75.2,295.0v2.2M74.0,298.4h2.6" stroke="#aaa" stroke-width="0.8"/>
<path d="M57.3,264.8h2.2M53.9,264.8h2.6" stroke="#aaa" stroke-width="0.8"/>
<path d="M91.0,295.0v2.2M89.7,298.4h2.6" stroke="#aaa" stroke-width="0.8"/>
<path d="M57.3,249.6h2.2M53.9,249.6h2.6" stroke="#aaa" stroke-width="0.8"/>
<path d="M106.8,295.0v2.2M105.5,298.4h2.6" stroke="#aaa" stroke-width="0.8"/>
<path d="M57.3,234.5h2.2M53.9,234.5h2.6" stroke="#aaa" stroke-width="0.8"/>
<path d="M122.5,295.0v2.2M121.2,298.4h2.6" stroke="#aaa" stroke-width="0.8"/>
<path d="M97.4,284.0h0.75M79.6,282.5h0.75M88.2,278.3h0.75M80.0,289.8h0.75M105.8,276.1h0.75M94.4,289.6h0.75M99.2,276.5h0.75M86.5,279.7h0.75M85.3,284.6h0.75M108.9,279.2h0.75M81.0,286.0h0.75M84.2,280.8h0.75M95.8,281.2h0.75M104.0,282.1h0.75M109.2,280.6h0.75M83.5,280.1h0.75M85.2,276.7h0.75M99.8,285.4h0.75M84.5,283.3h0.75M108.8,282.2h0.75M79.4,280.8h0.75M80.5,276.4h0.75M93.4,276.8h0.75M87.6,278.0h0.75M83.7,284.7h0.75M115.4,285.1h0.75M97.7,286.0h0.75M90.8,281.7h0.75M80.9,280.1h0.75M109.3,281.9h0.75M113.6,280.3h0.75M91.6,283.2h0.75M82.0,277.9h0.75M101.7,280.3h0.75M102.4,276.6h0.75M90.3,277.0h0.75M89.0,284.9h0.75M104.3,280.5h0.75M79.2,279.9h0.75M85.2,288.4h0.75M88.7,276.0h0.75M91.0,280.3h0.75M81.4,279.8h0.75M80.6,278.6h0.75M90.3,282.5h0.75M82.6,284.3h0.75M86.5,290.3h0.75M91.1,277.5h0.75M79.6,282.1h0.75M83.0,279.0h0.75M91.4,280.5h0.75M89.1,290.9h0.75M83.0,283.2h0.75M83.6,277.0h0.75M102.3,281.9h0.75M95.8,279.5h0.75M79.3,285.4h0.75M81.5,286.1h0.75M82.0,284.3h0.75M89.7,285.0h0.75M92.8,285.4h0.75M86.2,280.4h0.75M90.3,285.0h0.75M86.7,282.0h0.75M95.0,291.3h0.75M101.7,277.0h0.75M92.5,282.2h0.75M105.2,280.0h0.75M88.9,289.6h0.75M79.8,280.8h0.75M84.4,280.2h0.75M106.3,283.0h0.75M95.1,285.0h0.75M112.9,276.5h0.75M99.1,278.6h0.75M90.6,286.4h0.75M103.9,286.3h0.75M97.2,281.4h0.75M80.1,281.7h0.75M83.3,292.3h0.75M81.0,277.6h0.75M81.2,283.9h0.75M85.8,279.3h0.75M88.1,284.3h0.75M86.4,283.9h0.75M83.7,284.4h0.75M81.9,290.9h0.75M101.1,288.9h0.75M81.1,282.0h0.75M79.7,277.2h0.75M90.8,285.8h0.75M97.6,281.1h0.75M80.8,290.2h0.75M101.0,281.3h0.75M102.3,277.9h0.75M80.9,281.6h0.75M80.1,281.1h0.75M93.2,288.3h0.75M92.5,287.6h0.75M108.9,282.5h0.75M100.1,287.0h0.75M87.9,276.8h0.75M82.5,279.4h0.75M97.6,284.2h0.75M87.9,278.8h0.75M86.2,288.3h0.75M95.9,285.0h0.75M98.6,285.1h0.75M83.0,277.7h0.75M95.1,282.5h0.75M97.0,283.4h0.75M89.4,286.6h0.75M89.8,288.3h0.75M87.6,280.4h0.75M86.3,284.4h0.75M94.2,284.6h0.75M99.9,278.2h0.75M87.1,287.7h0.75M86.3,285.4h0.75M117.2,290.3h0.75M114.5,281.4h0.75M88.7,282.5h0.75M102.0,286.1h0.75M82.0,280.7h0.75M84.2,288.0h0.75M95.6,282.4h0.75M111.5,280.4h0.75M87.6,286.0h0.75M86.2,282.8h0.75M81.0,279.2h0.75M83.4,287.1h0.75M92.8,287.7h0.75M79.3,278.7h0.75M80.4,284.2h0.75M83.9,281.1h0.75M105.2,291.9h0.75M97.1,276.5h0.75M85.9,278.6h0.75M92.1,284.5h0.75M89.7,286.9h0.75M90.9,284.2h0.75M82.4,284.6h0.75M85.5,276.1h0.75M83.6,278.5h0.75M90.4,278.6h0.75M94.6,280.4h0.75M91.9,290.9h0.75M88.6,288.3h0.75M90.0,280.2h0.75M94.8,279.8h0.75M86.3,281.8h0.75M81.5,277.5h0.75M90.1,280.1h0.75M95.9,281.7h0.75M82.5,283.8h0.75M92.4,283.7h0.75M83.6,279.1h0.75M79.5,281.8h0.75M94.1,283.6h0.75M82.9,285.4h0.75M86.7,286.2h0.75M104.7,284.4h0.75M79.3,283.3h0.75M99.4,279.7h0.75M105.7,277.9h0.75M85.9,289.9h0.75M93.1,287.6h0.75M93.7,285.5h0.75M81.5,276.9h0.75M87.5,277.2h0.75" stroke="#8c8c8c" stroke-width="0.75"/>
<ellipse cx="70.5" cy="283.0" rx="10.9" ry="7.1" transform="rotate(-55 70.5 283.0)" fill="url(#halo)"/>
<path d="M78.0,285.1h0.8M72.2,293.5h0.8M63.1,281.1h0.8M81.4,275.2h0.8M76.9,281.3h0.8M75.1,278.2h0.8M80.4,280.4h0.8M78.3,277.7h0.8M68.3,275.5h0.8M65.0,277.3h0.8M76.8,276.5h0.8M67.8,277.4h0.8M75.4,286.7h0.8M65.3,292.9h0.8M70.7,277.1h0.8M77.5,277.3h0.8M79.0,287.0h0.8M78.8,281.7h0.8M63.2,288.1h0.8M77.3,280.6h0.8M67.0,289.7h0.8M67.2,290.5h0.8M77.6,287.5h0.8M64.1,287.2h0.8M73.2,275.7h0.8M78.5,285.6h0.8M65.6,277.4h0.8M72.5,292.0h0.8M75.7,279.6h0.8M68.5,278.7h0.8M76.5,281.9h0.8M69.8,290.1h0.8M69.2,276.3h0.8M68.0,289.9h0.8M65.9,281.9h0.8M77.0,285.7h0.8M63.8,285.0h0.8M64.1,276.3h0.8M63.5,287.0h0.8M80.2,280.1h0.8M79.9,280.4h0.8M63.7,288.3h0.8M76.2,277.2h0.8M63.1,277.6h0.8M62.3,280.8h0.8M75.9,283.6h0.8M70.7,292.6h0.8M67.5,275.7h0.8M77.6,276.9h0.8M63.7,283.6h0.8M63.6,286.7h0.8M68.2,277.5h0.8M77.5,281.1h0.8M70.4,290.5h0.8M66.5,290.7h0.8M74.1,275.5h0.8M63.9,288.0h0.8M79.7,282.0h0.8M67.4,294.1h0.8M63.0,276.3h0.8M70.8,276.6h0.8M82.1,282.8h0.8M79.3,280.7h0.8M68.2,274.7h0.8M85.1,279.2h0.8M65.3,285.4h0.8M83.5,265.4h0.8M75.6,291.8h0.8M76.0,281.2h0.8M78.0,277.7h0.8M63.1,280.7h0.8M68.1,277.5h0.8M76.9,288.0h0.8M80.3,275.1h0.8M64.8,285.6h0.8M76.7,273.5h0.8M69.8,289.1h0.8M66.0,282.2h0.8M67.3,278.1h0.8M76.3,281.3h0.8M70.1,293.7h0.8M73.7,292.9h0.8M76.9,283.7h0.8M61.4,288.5h0.8M66.9,289.5h0.8M79.5,279.1h0.8M66.1,278.8h0.8M78.1,286.1h0.8M70.1,275.7h0.8M71.8,292.2h0.8M74.7,284.2h0.8M66.5,281.1h0.8M77.9,285.4h0.8M68.1,277.9h0.8M75.7,284.5h0.8M66.8,279.6h0.8M69.1,289.7h0.8M75.9,290.1h0.8M72.0,276.0h0.8M75.7,278.9h0.8M74.9,285.5h0.8M63.9,285.1h0.8M76.1,285.3h0.8M61.3,284.7h0.8M64.2,282.9h0.8M69.2,288.9h0.8M77.8,276.1h0.8M76.1,280.9h0.8M73.1,276.2h0.8M66.8,280.2h0.8M79.3,280.0h0.8M72.7,290.4h0.8M78.7,279.5h0.8M79.5,268.4h0.8M72.9,287.1h0.8M63.5,288.1h0.8M78.3,285.0h0.8M70.3,274.9h0.8M75.3,278.7h0.8M61.1,281.6h0.8M63.3,280.3h0.8M64.8,290.2h0.8M76.4,289.9h0.8M65.1,275.4h0.8M68.1,278.0h0.8M63.1,280.5h0.8M61.8,290.4h0.8M64.1,288.2h0.8M83.0,289.0h0.8M65.4,287.6h0.8M73.1,276.1h0.8M65.5,289.3h0.8M73.7,276.0h0.8M65.8,274.3h0.8M82.8,278.4h0.8M74.7,285.3h0.8M64.2,285.6h0.8M76.6,280.1h0.8M64.6,279.9h0.8M62.5,287.2h0.8M79.9,275.0h0.8M71.9,272.5h0.8M72.1,275.9h0.8M81.2,279.7h0.8" stroke="#6a6a6a" stroke-width="0.8"/>
<path d="M74.6,247.0h0.6M64.3,261.3h0.6M73.0,272.7h0.6M70.5,258.9h0.6M61.7,258.0h0.6M75.6,248.1h0.6" stroke="#c8c8c8" stroke-width="0.6"/>
<ellipse cx="70.5" cy="283.0" rx="7.7" ry="5.0" transform="rotate(-55 70.5 283.0)" fill="url(#blob)" fill-opacity="1.0"/>
<path d="M67.5,286.9h0.8M68.9,287.8h0.8M74.6,281.4h0.8M68.2,284.5h0.8M67.9,285.2h0.8M67.3,283.7h0.8M67.0,283.8h0.8M72.5,277.4h0.8M73.2,285.4h0.8M66.1,284.1h0.8M75.1,280.6h0.8M71.0,277.9h0.8M69.4,278.9h0.8M71.4,285.4h0.8M71.6,286.6h0.8M73.7,281.3h0.8M66.5,287.9h0.8M70.8,281.2h0.8M73.3,282.7h0.8M69.3,284.3h0.8M71.3,283.8h0.8M70.8,280.2h0.8M68.7,281.0h0.8M69.7,282.0h0.8M67.6,286.5h0.8M68.3,284.1h0.8M70.8,283.5h0.8M70.2,282.7h0.8M70.5,283.9h0.8M72.5,286.3h0.8M66.1,284.2h0.8M67.2,281.2h0.8M72.1,282.6h0.8M71.6,282.2h0.8M71.3,285.6h0.8M72.9,280.0h0.8M73.5,284.6h0.8M67.8,286.0h0.8M68.7,282.7h0.8M69.6,285.6h0.8M67.7,282.6h0.8M68.6,280.9h0.8M70.9,278.8h0.8M72.2,280.7h0.8M65.6,285.8h0.8M74.1,280.1h0.8M67.9,283.3h0.8M71.6,282.3h0.8M69.6,285.2h0.8M72.1,278.6h0.8M73.4,280.2h0.8M66.6,286.0h0.8M72.1,279.8h0.8M74.0,282.2h0.8M71.4,282.1h0.8M72.8,282.5h0.8M72.0,287.1h0.8M73.7,278.5h0.8M71.1,285.2h0.8M70.0,280.2h0.8M69.8,285.4h0.8M71.3,283.4h0.8M71.5,284.6h0.8M73.7,281.6h0.8M68.0,283.3h0.8M75.1,281.4h0.8M70.7,277.9h0.8M71.1,282.1h0.8M69.9,280.7h0.8M73.4,281.9h0.8M74.4,279.4h0.8M71.8,277.7h0.8M69.4,281.1h0.8M71.8,277.7h0.8M68.5,283.7h0.8M68.0,282.4h0.8M73.2,277.9h0.8M73.9,283.1h0.8" stroke="#222" stroke-width="0.8" stroke-opacity="0.8"/>
<path d="M78.8,234.5V295.0M59.5,275.0H122.5" stroke="#7a7a7a" stroke-width="0.85"/>
<text x="60.5" y="245.0" font-size="6.8" fill="#222" stroke="#222" stroke-width="0.25">0.49%</text>
<text x="102.5" y="280.5" font-size="6.8" fill="#222" stroke="#222" stroke-width="0.25">16.5%</text>
<text x="103.0" y="290.0" font-size="6.8" fill="#222" stroke="#222" stroke-width="0.25">(135)</text>
<rect x="151.2" y="234.0" width="61.8" height="60.6" fill="#f6f6f6" stroke="#a0a0a0" stroke-width="0.85"/>
<path d="M149.0,294.6h2.2M145.6,294.6h2.6" stroke="#aaa" stroke-width="0.8"/>
<path d="M151.2,294.6v2.2M149.9,298.0h2.6" stroke="#aaa" stroke-width="0.8"/>
<path d="M149.0,279.5h2.2M145.6,279.5h2.6" stroke="#aaa" stroke-width="0.8"/>
<path d="M166.6,294.6v2.2M165.3,298.0h2.6" stroke="#aaa" stroke-width="0.8"/>
<path d="M149.0,264.3h2.2M145.6,264.3h2.6" stroke="#aaa" stroke-width="0.8"/>
<path d="M182.1,294.6v2.2M180.8,298.0h2.6" stroke="#aaa" stroke-width="0.8"/>
<path d="M149.0,249.2h2.2M145.6,249.2h2.6" stroke="#aaa" stroke-width="0.8"/>
<path d="M197.6,294.6v2.2M196.2,298.0h2.6" stroke="#aaa" stroke-width="0.8"/>
<path d="M149.0,234.0h2.2M145.6,234.0h2.6" stroke="#aaa" stroke-width="0.8"/>
<path d="M213.0,294.6v2.2M211.7,298.0h2.6" stroke="#aaa" stroke-width="0.8"/>
<path d="M179.8,290.8h0.75M178.5,281.7h0.75M189.5,288.8h0.75M173.7,289.5h0.75M172.2,285.0h0.75M170.4,277.3h0.75M186.7,284.2h0.75M170.7,288.4h0.75M174.9,290.9h0.75M176.6,288.9h0.75M174.2,278.6h0.75M181.0,283.7h0.75M174.2,278.3h0.75M185.8,284.3h0.75M171.2,283.4h0.75M177.0,281.7h0.75M210.4,279.9h0.75M179.4,279.2h0.75M174.7,282.6h0.75M171.6,291.8h0.75M194.5,281.9h0.75M171.0,290.6h0.75M193.3,285.7h0.75M192.1,287.2h0.75M174.9,282.3h0.75M173.4,285.4h0.75M174.4,283.8h0.75M182.4,282.9h0.75M181.5,289.2h0.75M177.3,285.9h0.75M202.3,279.8h0.75M197.1,282.1h0.75M175.1,282.9h0.75M172.3,285.0h0.75M181.1,281.0h0.75M177.3,288.4h0.75M188.6,280.4h0.75M188.9,279.3h0.75M195.7,278.0h0.75M199.7,283.7h0.75M178.9,286.3h0.75M200.3,283.3h0.75M193.3,287.3h0.75M173.0,289.1h0.75M189.5,283.1h0.75M173.6,284.5h0.75M171.7,283.9h0.75M175.5,291.0h0.75M175.9,276.5h0.75M181.5,278.7h0.75" stroke="#8c8c8c" stroke-width="0.75"/>
<ellipse cx="162.4" cy="283.4" rx="10.5" ry="8.5" transform="rotate(-60 162.4 283.4)" fill="url(#halo)"/>
<path d="M171.5,281.9h0.8M164.2,274.7h0.8M157.6,279.4h0.8M169.9,279.6h0.8M167.4,284.9h0.8M167.6,293.4h0.8M168.1,285.7h0.8M169.6,285.0h0.8M157.3,281.4h0.8M164.4,289.7h0.8M181.5,283.8h0.8M168.0,284.7h0.8M170.6,286.8h0.8M165.8,277.2h0.8M168.8,293.8h0.8M173.3,281.5h0.8M167.7,278.3h0.8M158.4,289.6h0.8M156.2,279.0h0.8M158.8,274.5h0.8M153.3,284.4h0.8M173.8,278.9h0.8M175.4,278.4h0.8M170.7,280.1h0.8M156.8,278.0h0.8M158.2,288.4h0.8M160.0,293.6h0.8M155.6,288.7h0.8M154.5,285.5h0.8M166.6,276.9h0.8M167.7,291.6h0.8M163.7,276.5h0.8M173.5,277.4h0.8M172.9,280.3h0.8M156.5,290.7h0.8M163.8,289.3h0.8M162.4,291.8h0.8M158.0,288.6h0.8M160.6,290.9h0.8M152.6,277.1h0.8M167.6,284.5h0.8M155.2,277.8h0.8M168.0,292.0h0.8M165.2,293.5h0.8M153.5,284.4h0.8M177.2,284.5h0.8M161.8,290.9h0.8M162.9,292.9h0.8M169.4,283.7h0.8M168.1,280.3h0.8M153.0,279.8h0.8M155.5,287.8h0.8M167.2,288.7h0.8M159.3,278.4h0.8M152.3,285.2h0.8M171.5,277.6h0.8M163.9,276.7h0.8M174.8,286.6h0.8M157.2,291.5h0.8M161.3,275.9h0.8M158.8,292.1h0.8M154.1,285.9h0.8M182.9,282.4h0.8M157.1,283.1h0.8M164.8,291.0h0.8M164.7,270.7h0.8M174.7,284.9h0.8M154.0,288.3h0.8M173.9,278.0h0.8M153.8,287.4h0.8M161.7,291.9h0.8M168.2,281.0h0.8M153.3,278.0h0.8M166.3,290.1h0.8M168.2,281.6h0.8M161.2,277.7h0.8M156.4,287.1h0.8M153.4,278.2h0.8M153.9,285.3h0.8M155.5,284.9h0.8M160.8,275.1h0.8M175.9,278.3h0.8M170.2,277.7h0.8M166.2,293.5h0.8M169.0,279.5h0.8M157.3,290.3h0.8M169.2,277.0h0.8M158.9,278.8h0.8M156.2,278.7h0.8M155.6,293.8h0.8M174.8,286.7h0.8M172.6,292.6h0.8M162.5,276.6h0.8M160.3,276.4h0.8M167.4,286.4h0.8M164.2,274.5h0.8M156.7,285.2h0.8M152.9,286.6h0.8M173.9,289.9h0.8M158.8,291.3h0.8M154.6,287.0h0.8M152.9,285.0h0.8M154.7,277.9h0.8M171.9,284.4h0.8M169.5,284.4h0.8M170.8,284.4h0.8M156.6,277.4h0.8M168.1,286.7h0.8M169.4,284.4h0.8M164.1,290.3h0.8M157.6,287.7h0.8M155.5,289.1h0.8M165.6,277.0h0.8M153.1,283.5h0.8M167.0,289.1h0.8M161.2,290.7h0.8M161.9,293.0h0.8M160.7,274.6h0.8M156.2,278.7h0.8M159.2,290.8h0.8M168.0,287.1h0.8M166.2,277.4h0.8M157.6,289.8h0.8" stroke="#6a6a6a" stroke-width="0.8"/>
<path d="M160.8,246.6h0.6M166.2,247.6h0.6M166.6,265.5h0.6M167.8,260.6h0.6M154.9,265.6h0.6M153.8,249.1h0.6" stroke="#c8c8c8" stroke-width="0.6"/>
<ellipse cx="162.4" cy="283.4" rx="7.4" ry="6.0" transform="rotate(-60 162.4 283.4)" fill="url(#blob)" fill-opacity="1.0"/>
<path d="M159.9,280.3h0.8M162.2,280.0h0.8M161.0,279.4h0.8M165.2,281.9h0.8M166.5,281.4h0.8M164.0,283.1h0.8M159.5,280.6h0.8M159.7,286.4h0.8M163.7,278.9h0.8M164.4,284.6h0.8M159.2,280.2h0.8M161.2,286.0h0.8M164.3,281.6h0.8M165.0,279.3h0.8M167.1,280.5h0.8M159.3,280.9h0.8M161.9,284.3h0.8M166.0,281.1h0.8M161.2,278.6h0.8M160.1,285.1h0.8M164.7,279.8h0.8M165.1,282.0h0.8M165.9,284.9h0.8M157.6,283.6h0.8M163.0,279.3h0.8M160.8,280.4h0.8M162.8,288.8h0.8M161.0,285.8h0.8M164.4,282.5h0.8M167.5,280.9h0.8M159.3,282.9h0.8M166.6,284.6h0.8M161.6,279.2h0.8M165.2,281.7h0.8M158.9,284.5h0.8M161.3,287.4h0.8M158.7,282.6h0.8M159.3,281.1h0.8M161.6,285.0h0.8M159.4,285.1h0.8M167.4,281.8h0.8M165.6,287.2h0.8M165.0,285.2h0.8M158.5,280.5h0.8M165.4,282.9h0.8M164.2,287.2h0.8M161.4,283.6h0.8M162.6,283.9h0.8M160.2,285.3h0.8M165.0,282.8h0.8M161.8,278.0h0.8M157.6,286.6h0.8M165.0,284.3h0.8M160.2,282.7h0.8M162.4,286.2h0.8M162.6,284.9h0.8M162.7,281.0h0.8M167.1,279.9h0.8M158.1,287.3h0.8M163.1,288.9h0.8M163.8,278.0h0.8M159.6,285.2h0.8M162.7,281.7h0.8M165.8,283.4h0.8M160.8,289.2h0.8M162.4,286.1h0.8M161.0,282.6h0.8M158.3,285.5h0.8M159.1,283.1h0.8M167.1,282.0h0.8M162.6,281.0h0.8M164.4,284.3h0.8M162.4,286.3h0.8M163.4,282.8h0.8M165.5,280.7h0.8M161.3,283.6h0.8M164.5,277.7h0.8M162.3,286.7h0.8M165.3,281.0h0.8M158.2,283.4h0.8M165.0,285.0h0.8M165.1,281.0h0.8M164.1,278.8h0.8M162.1,278.0h0.8M162.6,282.4h0.8M157.7,283.9h0.8M164.4,287.5h0.8M160.9,279.5h0.8M160.1,285.7h0.8M160.6,282.4h0.8M167.1,282.5h0.8M164.0,282.4h0.8M163.5,287.6h0.8M161.8,285.3h0.8M164.9,279.0h0.8M166.2,286.3h0.8M164.3,281.0h0.8M163.9,283.6h0.8M162.1,278.5h0.8M165.3,281.6h0.8M159.4,279.7h0.8" stroke="#222" stroke-width="0.8" stroke-opacity="0.8"/>
<path d="M169.8,234.0V294.6M151.2,274.8H213.0" stroke="#7a7a7a" stroke-width="0.85"/>
<text x="151.8" y="243.2" font-size="6.8" fill="#222" stroke="#222" stroke-width="0.25">0.46%</text>
<text x="192.8" y="282.1" font-size="6.8" fill="#222" stroke="#222" stroke-width="0.25">3.98%</text>
<text x="192.8" y="290.4" font-size="6.8" fill="#222" stroke="#222" stroke-width="0.25">(53.3)</text>
<rect x="67.3" y="399.5" width="63.0" height="61.3" fill="#f6f6f6" stroke="#a0a0a0" stroke-width="0.85"/>
<path d="M65.1,460.8h2.2M61.7,460.8h2.6" stroke="#aaa" stroke-width="0.8"/>
<path d="M67.3,460.8v2.2M66.0,464.2h2.6" stroke="#aaa" stroke-width="0.8"/>
<path d="M65.1,445.5h2.2M61.7,445.5h2.6" stroke="#aaa" stroke-width="0.8"/>
<path d="M83.0,460.8v2.2M81.8,464.2h2.6" stroke="#aaa" stroke-width="0.8"/>
<path d="M65.1,430.1h2.2M61.7,430.1h2.6" stroke="#aaa" stroke-width="0.8"/>
<path d="M98.8,460.8v2.2M97.5,464.2h2.6" stroke="#aaa" stroke-width="0.8"/>
<path d="M65.1,414.8h2.2M61.7,414.8h2.6" stroke="#aaa" stroke-width="0.8"/>
<path d="M114.6,460.8v2.2M113.3,464.2h2.6" stroke="#aaa" stroke-width="0.8"/>
<path d="M65.1,399.5h2.2M61.7,399.5h2.6" stroke="#aaa" stroke-width="0.8"/>
<path d="M130.3,460.8v2.2M129.0,464.2h2.6" stroke="#aaa" stroke-width="0.8"/>
<path d="M101.3,453.2h0.75M99.6,447.7h0.75M95.2,447.2h0.75M92.8,458.0h0.75M99.7,448.9h0.75M99.3,453.4h0.75M103.6,447.5h0.75M115.6,455.0h0.75M95.1,450.7h0.75M103.4,453.0h0.75M93.4,450.9h0.75M102.1,449.3h0.75M98.5,452.3h0.75M107.1,449.6h0.75M96.3,448.1h0.75M100.4,448.1h0.75M92.8,455.9h0.75M95.7,451.3h0.75M120.0,444.7h0.75M96.4,452.3h0.75M94.2,446.3h0.75M105.7,454.5h0.75M93.9,454.9h0.75M115.5,454.9h0.75M101.3,448.7h0.75M102.0,449.7h0.75M94.5,446.3h0.75M103.5,450.9h0.75M93.0,457.1h0.75M105.6,448.1h0.75M99.6,442.6h0.75M111.8,451.4h0.75M97.0,455.0h0.75M100.9,450.1h0.75M94.1,458.8h0.75M117.6,450.4h0.75M93.0,451.2h0.75M98.7,446.7h0.75M102.9,449.8h0.75M98.0,454.8h0.75M117.9,456.6h0.75M126.0,454.5h0.75M103.1,453.4h0.75M124.9,447.7h0.75M98.5,448.9h0.75M115.1,454.1h0.75M101.5,450.9h0.75M106.7,454.2h0.75M109.8,447.0h0.75M96.2,447.9h0.75M97.2,452.7h0.75M102.5,449.1h0.75M106.7,442.6h0.75M94.7,453.5h0.75M99.8,455.7h0.75M99.4,455.3h0.75M109.0,455.4h0.75M101.8,444.7h0.75" stroke="#8c8c8c" stroke-width="0.75"/>
<ellipse cx="79.2" cy="452.8" rx="8.8" ry="7.5" transform="rotate(-30 79.2 452.8)" fill="url(#halo)"/>
<path d="M88.9,455.3h0.8M76.0,449.2h0.8M83.3,447.4h0.8M73.0,449.2h0.8M85.1,448.6h0.8M84.0,450.1h0.8M70.4,453.4h0.8M85.8,445.3h0.8M74.8,457.2h0.8M82.7,442.7h0.8M70.8,450.9h0.8M84.6,446.9h0.8M86.7,452.3h0.8M83.6,449.4h0.8M83.8,454.5h0.8M85.5,454.3h0.8M75.1,460.0h0.8M83.8,455.0h0.8M92.1,453.6h0.8M69.4,449.0h0.8M80.8,446.2h0.8M71.3,448.9h0.8M76.0,449.2h0.8M72.3,459.6h0.8M72.7,452.9h0.8M72.1,451.9h0.8M85.9,441.2h0.8M75.6,446.8h0.8M80.6,458.5h0.8M73.8,443.6h0.8M71.0,446.5h0.8M85.9,449.2h0.8M71.1,452.2h0.8M85.2,450.2h0.8M75.3,457.9h0.8M78.5,459.3h0.8M72.6,455.9h0.8M76.0,447.3h0.8M91.3,454.0h0.8M74.8,440.8h0.8M73.2,454.8h0.8M81.2,458.3h0.8M85.4,446.1h0.8M72.9,446.3h0.8M89.3,452.4h0.8M85.4,453.0h0.8M83.1,459.0h0.8M88.4,450.3h0.8M73.5,455.7h0.8M82.6,448.7h0.8M75.9,445.8h0.8M81.7,447.0h0.8M85.7,457.5h0.8M75.4,457.6h0.8M88.6,446.0h0.8M75.7,449.0h0.8M77.8,446.7h0.8M77.3,459.9h0.8M87.4,449.5h0.8M86.7,459.4h0.8M72.6,456.8h0.8M88.8,452.6h0.8M72.5,451.9h0.8M89.9,449.9h0.8M75.4,445.6h0.8M76.4,443.5h0.8M69.8,456.1h0.8M77.4,457.4h0.8M90.9,447.3h0.8M72.5,450.1h0.8M73.8,456.6h0.8M87.1,454.3h0.8M74.4,448.3h0.8M80.0,442.7h0.8M84.8,450.7h0.8M70.9,452.4h0.8M84.3,452.4h0.8M85.4,456.7h0.8M82.2,460.0h0.8M70.0,456.0h0.8M81.0,444.7h0.8M85.3,451.1h0.8M72.8,453.7h0.8M74.5,450.9h0.8M75.2,449.4h0.8M72.7,456.3h0.8M79.9,443.9h0.8M76.4,459.2h0.8M73.6,455.5h0.8M81.8,456.7h0.8M69.5,448.3h0.8M81.6,457.6h0.8M69.0,452.6h0.8M72.8,450.2h0.8M77.0,457.3h0.8M71.5,450.5h0.8M70.3,449.2h0.8M71.0,450.1h0.8M84.9,454.1h0.8M71.1,449.7h0.8M80.8,459.6h0.8M73.2,454.7h0.8M69.4,453.0h0.8M88.1,452.3h0.8M75.1,450.3h0.8M68.9,456.6h0.8M76.0,448.4h0.8M90.1,456.9h0.8M75.5,458.3h0.8M73.9,454.5h0.8M75.9,447.1h0.8M76.3,447.0h0.8M69.1,459.1h0.8M73.7,454.5h0.8M73.8,457.2h0.8M72.1,459.5h0.8M73.0,459.4h0.8M87.4,453.7h0.8M76.6,445.6h0.8M83.5,449.5h0.8M68.7,451.6h0.8M79.1,460.0h0.8M91.7,454.5h0.8M71.3,453.5h0.8M82.2,456.7h0.8M84.2,453.2h0.8M85.5,451.4h0.8M70.3,448.8h0.8M76.6,444.8h0.8M69.5,445.8h0.8M79.7,457.5h0.8M90.4,452.7h0.8M81.8,448.3h0.8M88.5,446.5h0.8M85.8,448.8h0.8M84.1,444.5h0.8M85.6,454.9h0.8M69.5,453.3h0.8M79.3,458.5h0.8M80.7,458.1h0.8M72.6,451.8h0.8" stroke="#6a6a6a" stroke-width="0.8"/>
<path d="M89.6,419.1h0.6M81.9,425.7h0.6M71.0,415.0h0.6M88.8,424.8h0.6M87.0,413.4h0.6M82.4,435.7h0.6" stroke="#c8c8c8" stroke-width="0.6"/>
<ellipse cx="79.2" cy="452.8" rx="6.2" ry="5.3" transform="rotate(-30 79.2 452.8)" fill="url(#blob)" fill-opacity="1.0"/>
<path d="M78.2,451.8h0.8M77.0,449.6h0.8M75.0,453.4h0.8M76.4,454.4h0.8M76.6,452.6h0.8M76.6,450.7h0.8M79.3,453.2h0.8M76.6,456.9h0.8M76.2,453.7h0.8M80.6,451.8h0.8M75.8,451.9h0.8M81.6,449.7h0.8M78.5,453.3h0.8M79.7,449.3h0.8M81.2,456.4h0.8M80.6,452.2h0.8M78.1,453.7h0.8M79.9,454.7h0.8M78.3,449.0h0.8M81.8,453.2h0.8M83.4,449.9h0.8M78.7,457.2h0.8M79.0,453.4h0.8M79.3,452.4h0.8M81.3,456.1h0.8M82.5,452.1h0.8M78.8,457.4h0.8M79.1,453.3h0.8M80.8,451.8h0.8M80.3,453.4h0.8M77.5,452.7h0.8M81.8,451.0h0.8M74.8,451.8h0.8M78.7,451.2h0.8M77.5,452.5h0.8M76.0,449.9h0.8M76.2,451.2h0.8M80.1,452.2h0.8M76.8,450.9h0.8M77.4,455.5h0.8M78.7,454.3h0.8M79.9,450.7h0.8M79.5,453.8h0.8M80.0,455.2h0.8M82.3,450.2h0.8M78.5,452.2h0.8M78.1,456.3h0.8M77.6,451.5h0.8M78.8,454.3h0.8M75.7,455.8h0.8M80.2,450.1h0.8M76.6,452.7h0.8M76.4,455.3h0.8M76.8,453.9h0.8M77.6,450.1h0.8M76.3,456.7h0.8M76.2,450.3h0.8M81.7,450.5h0.8M82.1,450.9h0.8M74.6,455.2h0.8M79.1,448.3h0.8M76.5,456.8h0.8M78.2,454.7h0.8M79.4,453.6h0.8M78.8,452.5h0.8M78.8,452.8h0.8M76.7,450.0h0.8M77.4,450.4h0.8M75.4,454.7h0.8M79.3,454.1h0.8M76.5,450.3h0.8M77.0,455.3h0.8M75.4,453.3h0.8M79.6,451.7h0.8M76.2,452.4h0.8M76.7,454.8h0.8M79.6,451.8h0.8M78.4,456.4h0.8M81.1,453.3h0.8M79.5,449.0h0.8M79.5,456.2h0.8M81.8,452.4h0.8M78.0,455.0h0.8M78.1,452.1h0.8M82.3,453.2h0.8M75.2,454.8h0.8M78.5,455.2h0.8M81.9,450.9h0.8M75.9,451.3h0.8M79.6,449.2h0.8M81.0,456.0h0.8M83.5,454.1h0.8M81.5,453.2h0.8M81.2,456.7h0.8M79.4,453.8h0.8M77.8,452.5h0.8M79.3,449.1h0.8M82.8,453.5h0.8M78.5,449.3h0.8" stroke="#222" stroke-width="0.8" stroke-opacity="0.8"/>
<path d="M92.3,399.5V460.8M67.3,441.5H130.3" stroke="#7a7a7a" stroke-width="0.85"/>
<text x="69.7" y="409.4" font-size="6.8" fill="#222" stroke="#222" stroke-width="0.25">0.40%</text>
<text x="110.0" y="448.0" font-size="6.8" fill="#222" stroke="#222" stroke-width="0.25">4.65%</text>
<text x="110.0" y="456.6" font-size="6.8" fill="#222" stroke="#222" stroke-width="0.25">(104)</text>
<rect x="159.9" y="399.4" width="62.8" height="60.9" fill="#f6f6f6" stroke="#a0a0a0" stroke-width="0.85"/>
<path d="M157.7,460.3h2.2M154.3,460.3h2.6" stroke="#aaa" stroke-width="0.8"/>
<path d="M159.9,460.3v2.2M158.6,463.7h2.6" stroke="#aaa" stroke-width="0.8"/>
<path d="M157.7,445.1h2.2M154.3,445.1h2.6" stroke="#aaa" stroke-width="0.8"/>
<path d="M175.6,460.3v2.2M174.3,463.7h2.6" stroke="#aaa" stroke-width="0.8"/>
<path d="M157.7,429.9h2.2M154.3,429.9h2.6" stroke="#aaa" stroke-width="0.8"/>
<path d="M191.3,460.3v2.2M190.0,463.7h2.6" stroke="#aaa" stroke-width="0.8"/>
<path d="M157.7,414.6h2.2M154.3,414.6h2.6" stroke="#aaa" stroke-width="0.8"/>
<path d="M207.0,460.3v2.2M205.7,463.7h2.6" stroke="#aaa" stroke-width="0.8"/>
<path d="M157.7,399.4h2.2M154.3,399.4h2.6" stroke="#aaa" stroke-width="0.8"/>
<path d="M222.7,460.3v2.2M221.4,463.7h2.6" stroke="#aaa" stroke-width="0.8"/>
<path d="M192.1,443.7h0.75M191.9,448.3h0.75M195.1,449.0h0.75M198.7,454.0h0.75M186.0,456.3h0.75M188.6,449.7h0.75M186.7,456.9h0.75M208.0,452.7h0.75M187.7,456.6h0.75M195.6,448.5h0.75M197.2,451.1h0.75M192.4,451.6h0.75M185.8,448.8h0.75M188.8,450.9h0.75M204.1,457.1h0.75M189.3,456.6h0.75M188.2,457.1h0.75M196.9,445.9h0.75M202.6,444.2h0.75M208.0,446.1h0.75M214.2,443.7h0.75M193.6,449.8h0.75M201.1,454.5h0.75M193.7,449.2h0.75M212.9,450.2h0.75M203.0,444.4h0.75M191.6,450.0h0.75M195.5,449.4h0.75M194.4,446.5h0.75M186.8,448.4h0.75M188.5,448.3h0.75M190.9,448.0h0.75M197.4,450.8h0.75M208.3,447.3h0.75M187.4,458.9h0.75M187.0,452.4h0.75M190.7,452.5h0.75M216.6,451.9h0.75M187.8,447.7h0.75M209.4,452.3h0.75M186.3,445.7h0.75" stroke="#8c8c8c" stroke-width="0.75"/>
<ellipse cx="173.7" cy="450.9" rx="8.5" ry="8.5" transform="rotate(-30 173.7 450.9)" fill="url(#halo)"/>
<path d="M168.2,443.8h0.8M167.9,454.7h0.8M174.0,441.0h0.8M170.9,444.0h0.8M172.9,442.8h0.8M173.3,442.4h0.8M172.3,457.1h0.8M181.6,445.8h0.8M175.7,457.8h0.8M169.4,455.2h0.8M177.6,455.1h0.8M173.5,443.8h0.8M175.7,445.5h0.8M168.4,451.7h0.8M178.1,447.7h0.8M171.6,458.0h0.8M170.6,444.0h0.8M165.7,444.6h0.8M178.5,457.3h0.8M168.1,455.6h0.8M184.5,446.4h0.8M171.5,443.7h0.8M183.5,455.5h0.8M169.5,440.7h0.8M168.4,453.2h0.8M173.6,457.1h0.8M184.1,454.6h0.8M186.9,452.8h0.8M175.8,456.0h0.8M180.4,444.3h0.8M177.3,446.3h0.8M164.2,448.3h0.8M167.0,442.7h0.8M180.2,456.7h0.8M167.2,452.5h0.8M182.0,448.3h0.8M179.5,449.7h0.8M161.8,442.3h0.8M176.4,458.5h0.8M172.6,443.4h0.8M178.4,455.8h0.8M168.0,451.0h0.8M179.2,449.0h0.8M164.3,447.1h0.8M179.2,455.4h0.8M178.8,450.6h0.8M181.7,448.3h0.8M167.5,453.7h0.8M177.3,457.9h0.8M166.1,457.4h0.8M169.9,454.6h0.8M168.2,451.0h0.8M176.9,457.3h0.8M168.1,450.5h0.8M174.3,443.5h0.8M174.5,444.4h0.8M179.5,449.1h0.8M177.7,446.2h0.8M176.8,459.2h0.8M163.3,451.2h0.8M172.8,456.3h0.8M180.4,445.4h0.8M177.3,459.3h0.8M168.0,447.4h0.8M176.0,446.1h0.8M181.2,449.8h0.8M165.9,457.0h0.8M173.3,456.0h0.8M164.4,452.0h0.8M165.9,445.6h0.8M168.4,446.4h0.8M166.6,449.2h0.8M166.3,449.5h0.8M162.6,449.5h0.8M171.5,446.3h0.8M165.4,453.7h0.8M179.3,446.3h0.8M168.0,454.7h0.8M168.5,452.9h0.8M183.8,451.0h0.8M180.2,450.4h0.8M169.3,443.6h0.8M179.7,453.8h0.8M173.8,445.8h0.8M186.4,452.6h0.8M161.6,447.7h0.8M173.2,457.6h0.8M166.4,453.7h0.8M167.4,446.6h0.8M175.7,457.0h0.8M173.9,444.9h0.8M184.9,459.4h0.8M171.5,443.4h0.8M169.2,445.7h0.8M177.3,446.4h0.8M176.9,446.9h0.8M167.8,458.3h0.8M162.2,459.3h0.8M178.2,446.5h0.8M186.5,448.6h0.8M182.6,448.8h0.8M177.8,446.7h0.8M169.8,455.2h0.8M177.5,442.4h0.8M178.7,448.8h0.8M183.4,451.4h0.8M166.0,452.9h0.8M182.1,459.3h0.8M169.0,448.8h0.8M180.0,449.2h0.8M187.4,446.0h0.8M178.6,455.2h0.8M172.6,445.0h0.8M168.8,443.6h0.8M183.2,450.4h0.8M179.0,448.3h0.8M178.7,446.9h0.8M175.6,445.5h0.8M177.8,447.4h0.8M177.6,442.9h0.8M173.3,444.6h0.8M178.1,444.8h0.8M163.2,450.2h0.8M179.6,443.1h0.8M176.1,444.8h0.8M165.7,453.7h0.8M178.7,448.6h0.8M175.5,456.0h0.8M173.0,456.7h0.8M173.2,445.4h0.8M182.0,453.9h0.8M170.1,446.5h0.8M175.5,444.1h0.8M171.2,456.8h0.8M180.6,459.2h0.8M184.8,454.6h0.8M174.9,444.4h0.8M168.1,445.0h0.8M182.0,454.4h0.8M188.2,455.5h0.8M169.3,447.8h0.8M171.0,444.0h0.8M166.7,453.8h0.8M164.1,453.4h0.8M167.7,444.5h0.8M179.6,449.0h0.8M163.2,453.9h0.8M164.6,456.2h0.8M172.8,440.6h0.8M163.3,444.6h0.8M164.2,455.4h0.8M164.6,448.4h0.8M167.6,446.6h0.8M170.5,457.9h0.8M182.6,453.4h0.8" stroke="#6a6a6a" stroke-width="0.8"/>
<path d="M167.2,433.4h0.6M180.0,414.9h0.6M171.2,414.6h0.6M173.3,435.2h0.6M182.8,414.2h0.6M163.2,433.8h0.6" stroke="#c8c8c8" stroke-width="0.6"/>
<ellipse cx="173.7" cy="450.9" rx="6.0" ry="6.0" transform="rotate(-30 173.7 450.9)" fill="url(#blob)" fill-opacity="1.0"/>
<path d="M174.1,447.6h0.8M171.8,453.0h0.8M176.0,447.6h0.8M169.0,449.7h0.8M171.1,449.7h0.8M174.2,450.2h0.8M169.7,453.8h0.8M174.4,448.8h0.8M175.9,454.2h0.8M174.7,455.0h0.8M176.3,450.9h0.8M171.2,450.5h0.8M170.5,451.4h0.8M178.2,450.4h0.8M175.4,455.5h0.8M175.4,449.1h0.8M173.8,451.5h0.8M177.7,451.5h0.8M172.9,451.6h0.8M169.8,449.2h0.8M173.3,454.7h0.8M173.9,449.1h0.8M169.3,451.7h0.8M177.6,452.8h0.8M172.1,452.9h0.8M169.9,452.1h0.8M173.7,447.3h0.8M171.1,449.8h0.8M171.7,447.7h0.8M172.1,453.4h0.8M170.5,451.9h0.8M169.9,449.7h0.8M173.2,452.4h0.8M177.0,449.6h0.8M174.6,453.5h0.8M174.3,451.8h0.8M175.8,451.1h0.8M174.4,448.3h0.8M177.1,452.6h0.8M178.0,449.2h0.8M174.7,449.3h0.8M172.4,450.3h0.8M174.7,453.8h0.8M173.4,452.1h0.8M176.0,451.5h0.8M175.5,454.2h0.8M174.3,453.6h0.8M177.2,450.5h0.8M173.8,454.9h0.8M176.7,452.8h0.8M172.1,449.3h0.8M171.4,452.9h0.8M172.9,450.2h0.8M169.3,448.5h0.8M172.6,446.3h0.8M171.4,448.2h0.8M176.3,451.9h0.8M171.4,452.0h0.8M177.9,450.5h0.8M176.5,452.0h0.8M169.8,449.3h0.8M174.9,446.6h0.8M171.7,454.4h0.8M173.7,452.4h0.8M175.5,447.1h0.8M174.5,452.0h0.8M174.3,449.6h0.8M176.8,450.1h0.8M177.2,452.4h0.8M177.1,454.0h0.8M176.1,448.3h0.8M176.1,452.8h0.8M175.8,447.2h0.8M174.5,453.7h0.8M175.4,449.4h0.8M174.4,454.5h0.8M176.5,446.8h0.8M169.6,448.6h0.8M172.4,450.9h0.8M173.2,452.2h0.8M176.4,447.1h0.8M170.7,452.2h0.8M169.5,451.6h0.8M170.6,450.0h0.8" stroke="#222" stroke-width="0.8" stroke-opacity="0.8"/>
<path d="M185.3,399.4V460.3M159.9,440.9H222.7" stroke="#7a7a7a" stroke-width="0.85"/>
<text x="161.6" y="410.1" font-size="6.8" fill="#222" stroke="#222" stroke-width="0.25">1.77%</text>
<text x="201.4" y="447.5" font-size="6.8" fill="#222" stroke="#222" stroke-width="0.25">2.60%</text>
<text x="201.4" y="456.5" font-size="6.8" fill="#222" stroke="#222" stroke-width="0.25">(85.8)</text>
<rect x="66.0" y="482.1" width="64.6" height="61.1" fill="#f6f6f6" stroke="#a0a0a0" stroke-width="0.85"/>
<path d="M63.8,543.2h2.2M60.4,543.2h2.6" stroke="#aaa" stroke-width="0.8"/>
<path d="M66.0,543.2v2.2M64.7,546.6h2.6" stroke="#aaa" stroke-width="0.8"/>
<path d="M63.8,527.9h2.2M60.4,527.9h2.6" stroke="#aaa" stroke-width="0.8"/>
<path d="M82.2,543.2v2.2M80.9,546.6h2.6" stroke="#aaa" stroke-width="0.8"/>
<path d="M63.8,512.7h2.2M60.4,512.7h2.6" stroke="#aaa" stroke-width="0.8"/>
<path d="M98.3,543.2v2.2M97.0,546.6h2.6" stroke="#aaa" stroke-width="0.8"/>
<path d="M63.8,497.4h2.2M60.4,497.4h2.6" stroke="#aaa" stroke-width="0.8"/>
<path d="M114.4,543.2v2.2M113.1,546.6h2.6" stroke="#aaa" stroke-width="0.8"/>
<path d="M63.8,482.1h2.2M60.4,482.1h2.6" stroke="#aaa" stroke-width="0.8"/>
<path d="M130.6,543.2v2.2M129.3,546.6h2.6" stroke="#aaa" stroke-width="0.8"/>
<path d="M101.4,533.1h0.75M99.6,527.9h0.75M99.9,531.2h0.75M89.0,525.9h0.75M127.3,536.7h0.75M88.9,542.0h0.75M91.7,536.6h0.75M94.4,537.4h0.75M97.8,530.9h0.75M97.9,528.2h0.75M105.9,525.8h0.75M103.7,524.5h0.75M102.3,525.1h0.75M94.4,527.2h0.75M105.8,532.6h0.75M92.0,532.4h0.75M90.7,528.3h0.75M94.6,535.0h0.75M102.7,526.4h0.75M99.7,528.9h0.75M91.9,538.9h0.75M100.6,524.9h0.75M98.0,533.1h0.75M105.6,528.3h0.75M91.5,525.4h0.75M88.9,527.1h0.75M92.0,531.9h0.75M95.2,541.3h0.75M93.1,527.6h0.75M128.0,528.8h0.75M105.0,532.8h0.75M90.4,532.3h0.75M95.7,526.4h0.75M121.7,530.8h0.75M99.6,533.4h0.75M112.8,524.7h0.75M99.0,531.6h0.75M96.1,539.3h0.75M111.4,528.7h0.75M89.3,531.2h0.75M115.5,536.5h0.75M92.8,534.3h0.75M100.5,529.7h0.75M96.0,540.4h0.75M110.0,540.6h0.75M111.4,531.1h0.75M89.6,534.5h0.75M92.6,538.7h0.75M102.1,530.8h0.75M91.6,531.3h0.75M103.6,539.0h0.75M89.0,533.8h0.75M98.0,524.8h0.75M117.9,536.6h0.75M100.4,531.2h0.75M89.3,529.5h0.75M89.2,530.6h0.75M99.5,535.6h0.75M90.5,531.5h0.75M96.9,527.4h0.75M90.7,525.3h0.75M93.8,537.7h0.75M101.9,532.2h0.75M104.8,530.4h0.75M100.5,534.4h0.75M95.7,532.1h0.75M93.8,531.1h0.75M103.3,538.7h0.75M101.5,527.6h0.75M94.5,532.5h0.75M90.7,534.4h0.75M89.3,531.4h0.75M92.8,531.0h0.75M90.5,528.0h0.75M91.9,532.0h0.75M91.6,531.1h0.75M94.2,525.9h0.75M115.9,524.7h0.75M96.3,532.7h0.75M94.0,532.7h0.75M90.1,531.7h0.75M90.6,531.3h0.75M90.6,534.6h0.75M128.5,530.8h0.75M103.8,532.3h0.75M106.8,531.9h0.75M100.1,532.7h0.75M93.0,534.5h0.75M93.7,534.3h0.75M99.5,531.8h0.75M93.1,531.3h0.75M93.3,530.1h0.75M108.3,534.4h0.75M106.9,533.2h0.75M107.9,529.5h0.75M107.4,530.5h0.75M104.5,530.4h0.75M90.0,533.4h0.75M101.8,524.9h0.75M127.0,529.8h0.75M97.9,529.1h0.75M93.8,533.2h0.75M109.9,524.6h0.75M97.7,532.7h0.75M95.6,535.0h0.75M92.5,532.2h0.75M99.3,530.3h0.75M99.6,538.3h0.75M89.3,537.2h0.75M101.4,536.2h0.75M109.4,534.4h0.75M108.1,535.2h0.75M99.0,536.8h0.75M103.6,526.8h0.75M91.3,528.1h0.75M113.0,525.0h0.75M92.9,528.4h0.75M114.8,535.8h0.75M97.7,533.4h0.75M98.9,527.3h0.75M100.5,526.4h0.75M116.6,528.9h0.75M96.3,525.8h0.75M92.1,536.9h0.75M102.1,529.6h0.75M92.4,530.9h0.75M124.7,525.9h0.75M93.7,532.5h0.75M102.2,530.6h0.75M98.2,530.6h0.75M98.0,530.4h0.75M104.8,530.1h0.75M91.9,534.0h0.75M100.4,542.1h0.75M96.7,534.0h0.75M122.8,526.1h0.75M90.3,531.4h0.75M111.5,534.8h0.75M117.7,534.5h0.75M91.3,529.2h0.75M118.5,528.1h0.75M100.1,530.6h0.75M95.5,528.7h0.75M96.1,529.3h0.75M93.1,534.6h0.75M101.0,525.8h0.75M94.1,526.8h0.75M89.9,532.3h0.75M102.1,524.5h0.75M107.4,530.1h0.75M91.5,528.8h0.75M91.1,531.4h0.75M88.8,526.7h0.75M97.2,534.5h0.75M89.9,530.7h0.75M92.0,531.1h0.75M100.2,529.6h0.75M89.9,530.2h0.75M89.5,533.3h0.75M96.7,531.1h0.75M97.4,533.0h0.75M107.7,538.7h0.75M99.2,525.3h0.75M91.8,535.0h0.75M112.4,531.3h0.75M95.9,527.8h0.75M103.6,527.1h0.75M102.2,527.4h0.75M92.1,530.6h0.75M91.9,526.4h0.75M102.6,530.6h0.75M94.3,527.2h0.75M103.6,525.4h0.75M89.6,533.9h0.75M105.9,535.3h0.75M95.6,527.7h0.75M106.3,527.2h0.75M94.2,534.5h0.75M119.9,529.3h0.75M96.0,529.3h0.75M89.7,537.6h0.75M94.8,528.3h0.75M96.1,526.2h0.75M107.7,532.7h0.75M97.0,530.6h0.75M97.2,533.3h0.75M91.6,527.5h0.75M105.8,528.2h0.75M91.3,539.3h0.75M94.9,538.6h0.75M94.7,530.0h0.75M112.4,534.5h0.75M89.3,530.3h0.75M94.8,530.7h0.75M103.2,537.7h0.75M98.1,532.5h0.75M91.0,534.0h0.75M91.3,532.9h0.75M111.9,525.6h0.75M124.1,532.8h0.75M95.9,530.1h0.75M93.6,526.4h0.75M105.6,528.8h0.75M89.6,530.6h0.75M105.4,525.6h0.75M91.9,534.5h0.75M98.1,530.0h0.75M89.1,539.3h0.75M113.6,531.6h0.75M101.2,527.8h0.75M107.7,526.8h0.75M88.9,535.9h0.75M100.4,531.2h0.75M107.0,524.4h0.75M127.3,535.0h0.75M94.8,532.3h0.75M101.8,530.3h0.75M89.8,524.5h0.75M98.8,533.0h0.75M92.3,540.0h0.75M109.8,537.9h0.75M96.0,531.1h0.75M96.0,532.2h0.75M99.0,531.4h0.75M93.2,533.1h0.75M88.8,533.9h0.75M94.6,535.9h0.75M98.2,529.6h0.75M92.3,529.5h0.75M99.6,537.7h0.75M102.7,528.9h0.75M89.4,534.5h0.75M93.1,526.8h0.75M92.7,528.1h0.75M90.4,536.0h0.75M101.6,530.4h0.75" stroke="#8c8c8c" stroke-width="0.75"/>
<ellipse cx="76.3" cy="531.0" rx="9.2" ry="7.5" transform="rotate(-20 76.3 531.0)" fill="url(#halo)"/>
<path d="M72.9,536.9h0.8M69.7,528.9h0.8M80.7,527.6h0.8M73.6,525.7h0.8M78.3,526.0h0.8M70.7,528.1h0.8M80.3,525.7h0.8M71.0,532.3h0.8M80.4,526.6h0.8M82.7,528.4h0.8M84.4,540.8h0.8M89.4,527.7h0.8M72.9,538.9h0.8M67.4,532.0h0.8M71.7,536.6h0.8M78.5,539.2h0.8M68.9,534.3h0.8M69.5,534.6h0.8M80.9,523.4h0.8M80.5,525.3h0.8M70.4,534.8h0.8M75.0,541.8h0.8M82.8,526.5h0.8M82.6,523.2h0.8M70.8,531.4h0.8M74.4,525.6h0.8M72.4,535.0h0.8M74.7,539.8h0.8M84.4,525.7h0.8M79.6,527.1h0.8M77.9,536.9h0.8M74.3,526.8h0.8M70.5,528.1h0.8M75.6,526.4h0.8M86.9,523.7h0.8M77.7,522.9h0.8M72.9,525.0h0.8M81.6,525.6h0.8M84.3,541.5h0.8M78.3,537.7h0.8M83.5,531.9h0.8M80.2,538.3h0.8M74.9,535.9h0.8M74.4,541.7h0.8M70.8,531.1h0.8M73.0,538.2h0.8M73.5,526.3h0.8M77.0,537.0h0.8M70.3,529.0h0.8M83.6,526.8h0.8M84.2,532.3h0.8M81.5,532.5h0.8M81.8,525.7h0.8M67.0,535.9h0.8M70.6,534.3h0.8M70.7,533.1h0.8M72.8,527.9h0.8M79.5,523.6h0.8M75.3,537.0h0.8M79.8,534.2h0.8M71.0,533.8h0.8M68.5,524.7h0.8M77.8,525.1h0.8M75.3,526.4h0.8M68.9,528.4h0.8M67.9,534.3h0.8M83.0,534.8h0.8M75.1,524.9h0.8M69.4,531.5h0.8M71.3,528.6h0.8M71.0,534.5h0.8M81.3,535.5h0.8M67.0,535.8h0.8M82.6,524.6h0.8M83.6,528.5h0.8M74.4,537.2h0.8M80.4,533.5h0.8M75.4,524.2h0.8M80.7,527.2h0.8M82.7,534.3h0.8M83.0,532.5h0.8M71.0,530.3h0.8M78.8,540.5h0.8M77.2,538.9h0.8M72.0,535.8h0.8M80.1,536.6h0.8M80.0,534.0h0.8M78.1,526.3h0.8M83.9,529.4h0.8M83.3,530.9h0.8M67.5,540.3h0.8M82.1,526.5h0.8M70.5,536.7h0.8M82.7,528.6h0.8M74.8,538.2h0.8M83.1,533.9h0.8M87.0,527.0h0.8M80.7,539.9h0.8M85.3,540.6h0.8M68.3,529.0h0.8M72.3,535.6h0.8M67.8,533.1h0.8M80.5,538.7h0.8M70.9,531.7h0.8M71.1,536.4h0.8M84.6,523.0h0.8M82.0,525.5h0.8M70.9,529.9h0.8M86.6,527.6h0.8M77.0,523.6h0.8M75.4,526.4h0.8M84.2,532.8h0.8M82.8,524.0h0.8M71.2,529.0h0.8M82.0,539.7h0.8M79.9,537.2h0.8M88.1,527.1h0.8M68.3,541.6h0.8M82.7,527.0h0.8M85.4,536.2h0.8M70.7,529.3h0.8M82.0,532.8h0.8M69.6,539.7h0.8M71.9,527.7h0.8M69.4,531.7h0.8M82.2,529.5h0.8M69.2,532.1h0.8M72.3,539.8h0.8M82.3,535.1h0.8M79.1,534.9h0.8M68.5,527.2h0.8M74.9,542.2h0.8M85.7,532.1h0.8M82.0,532.0h0.8M77.8,539.4h0.8M78.8,523.8h0.8M68.7,530.3h0.8M79.9,526.4h0.8M78.6,536.4h0.8M85.6,538.9h0.8M78.0,524.4h0.8M80.6,523.6h0.8M70.8,527.9h0.8M77.7,536.5h0.8M75.7,526.0h0.8M68.5,527.5h0.8M88.8,530.3h0.8" stroke="#6a6a6a" stroke-width="0.8"/>
<path d="M83.8,509.3h0.6M80.8,497.9h0.6M74.4,496.7h0.6M68.9,520.4h0.6M68.6,495.3h0.6M86.1,506.2h0.6" stroke="#c8c8c8" stroke-width="0.6"/>
<ellipse cx="76.3" cy="531.0" rx="6.5" ry="5.3" transform="rotate(-20 76.3 531.0)" fill="url(#blob)" fill-opacity="0.72"/>
<path d="M73.7,531.1h0.8M77.9,529.8h0.8M75.1,534.4h0.8M73.4,527.8h0.8M76.5,530.2h0.8M74.3,527.8h0.8M72.3,530.0h0.8M80.7,530.1h0.8M78.0,530.2h0.8M73.3,534.9h0.8M79.1,527.8h0.8M79.6,528.5h0.8M76.8,530.5h0.8M79.2,532.7h0.8M79.5,527.1h0.8M73.7,533.6h0.8M75.8,535.4h0.8M80.4,532.8h0.8M73.4,533.1h0.8M76.4,535.4h0.8M75.8,531.4h0.8M73.4,531.7h0.8M72.5,533.6h0.8M80.0,530.4h0.8M78.3,533.6h0.8M78.0,527.4h0.8M75.6,531.4h0.8M78.0,528.2h0.8M73.6,529.7h0.8M75.1,532.9h0.8M73.6,529.4h0.8M78.3,529.5h0.8M76.5,531.4h0.8M73.4,530.1h0.8M79.2,532.7h0.8M77.6,535.0h0.8M78.8,531.4h0.8M73.3,533.7h0.8M80.3,532.5h0.8M73.7,528.1h0.8M80.0,529.2h0.8M75.2,528.1h0.8M74.6,532.4h0.8M74.8,531.8h0.8M78.1,527.6h0.8M80.3,533.2h0.8M71.7,531.6h0.8M77.3,531.6h0.8M78.2,527.0h0.8M76.9,528.7h0.8M75.3,529.2h0.8M79.6,533.2h0.8M77.6,533.1h0.8M74.7,528.6h0.8M73.0,529.8h0.8M80.9,530.7h0.8M77.0,529.3h0.8M79.3,530.5h0.8M72.2,530.1h0.8M80.4,531.9h0.8M75.9,534.7h0.8M75.7,529.8h0.8M76.7,531.3h0.8M80.4,528.8h0.8M75.5,528.3h0.8M76.7,529.2h0.8M74.8,532.8h0.8M75.6,529.3h0.8M72.7,531.9h0.8M73.7,534.6h0.8M74.1,527.4h0.8M75.3,528.1h0.8M79.3,533.0h0.8M80.3,530.3h0.8M75.9,526.7h0.8M80.1,530.4h0.8M74.5,527.5h0.8M73.9,529.4h0.8M73.8,531.9h0.8M77.2,530.3h0.8M76.3,530.8h0.8M74.9,533.1h0.8M76.4,527.2h0.8M79.8,533.9h0.8M74.2,532.3h0.8M77.5,530.4h0.8M73.9,530.7h0.8" stroke="#222" stroke-width="0.8" stroke-opacity="0.8"/>
<path d="M88.3,482.1V543.2M66.0,523.3H130.6" stroke="#7a7a7a" stroke-width="0.85"/>
<text x="68.7" y="494.9" font-size="6.8" fill="#222" stroke="#222" stroke-width="0.25">1.19%</text>
<text x="110.9" y="530.6" font-size="6.8" fill="#222" stroke="#222" stroke-width="0.25">33.6%</text>
<text x="111.7" y="540.0" font-size="6.8" fill="#222" stroke="#222" stroke-width="0.25">(178)</text>
<rect x="160.2" y="482.5" width="62.3" height="60.2" fill="#f6f6f6" stroke="#a0a0a0" stroke-width="0.85"/>
<path d="M158.0,542.7h2.2M154.6,542.7h2.6" stroke="#aaa" stroke-width="0.8"/>
<path d="M160.2,542.7v2.2M158.9,546.1h2.6" stroke="#aaa" stroke-width="0.8"/>
<path d="M158.0,527.7h2.2M154.6,527.7h2.6" stroke="#aaa" stroke-width="0.8"/>
<path d="M175.8,542.7v2.2M174.5,546.1h2.6" stroke="#aaa" stroke-width="0.8"/>
<path d="M158.0,512.6h2.2M154.6,512.6h2.6" stroke="#aaa" stroke-width="0.8"/>
<path d="M191.3,542.7v2.2M190.0,546.1h2.6" stroke="#aaa" stroke-width="0.8"/>
<path d="M158.0,497.6h2.2M154.6,497.6h2.6" stroke="#aaa" stroke-width="0.8"/>
<path d="M206.9,542.7v2.2M205.6,546.1h2.6" stroke="#aaa" stroke-width="0.8"/>
<path d="M158.0,482.5h2.2M154.6,482.5h2.6" stroke="#aaa" stroke-width="0.8"/>
<path d="M222.5,542.7v2.2M221.2,546.1h2.6" stroke="#aaa" stroke-width="0.8"/>
<path d="M191.3,527.2h0.75M206.2,531.7h0.75M198.6,534.5h0.75M191.1,528.4h0.75M188.8,526.7h0.75M191.0,530.3h0.75M197.3,525.3h0.75M182.4,532.5h0.75M193.3,525.4h0.75M184.2,533.5h0.75M186.6,535.2h0.75M189.2,533.4h0.75M187.7,529.7h0.75M186.0,537.6h0.75M191.6,531.8h0.75M212.2,529.3h0.75M198.4,527.1h0.75M198.7,532.8h0.75M197.7,535.8h0.75M185.7,524.3h0.75M186.2,529.9h0.75M191.1,528.9h0.75M195.6,533.2h0.75M188.9,531.7h0.75M196.2,525.9h0.75M198.0,530.0h0.75M193.0,529.1h0.75M197.2,526.3h0.75M188.7,534.2h0.75M194.3,528.9h0.75M190.6,528.5h0.75M186.2,530.2h0.75M200.1,532.0h0.75M197.6,529.6h0.75M182.4,529.9h0.75M187.1,525.9h0.75M202.3,535.6h0.75M182.9,525.6h0.75M185.5,527.8h0.75M191.1,534.3h0.75M181.4,528.3h0.75M184.1,532.3h0.75M182.4,535.4h0.75M182.3,534.7h0.75M186.2,535.1h0.75M194.2,534.8h0.75M187.6,530.6h0.75M196.7,540.1h0.75M194.1,535.2h0.75M205.4,527.2h0.75M207.4,529.7h0.75M186.6,527.1h0.75M188.6,533.7h0.75M191.3,526.4h0.75M190.5,525.1h0.75M190.4,526.0h0.75M206.0,524.9h0.75M190.5,533.9h0.75M188.9,532.3h0.75M196.8,531.6h0.75M181.1,527.2h0.75M197.0,529.2h0.75M181.0,536.5h0.75M197.7,537.4h0.75M182.5,528.3h0.75M184.2,527.9h0.75M202.7,529.4h0.75M203.2,528.9h0.75M192.9,529.2h0.75M200.6,532.4h0.75M212.9,526.8h0.75M195.1,535.2h0.75M183.4,539.3h0.75M199.9,526.3h0.75M187.1,528.2h0.75M189.8,532.3h0.75M184.9,531.2h0.75M186.4,531.5h0.75M184.7,526.7h0.75M188.1,530.5h0.75M187.2,524.9h0.75M184.7,532.0h0.75M188.8,533.3h0.75M201.0,532.7h0.75M217.7,531.9h0.75M202.7,526.3h0.75M186.9,532.6h0.75M200.4,529.6h0.75M187.8,529.4h0.75M184.1,528.4h0.75M184.7,529.1h0.75M186.8,532.0h0.75M183.4,530.2h0.75M184.2,533.8h0.75M183.1,534.6h0.75M187.7,532.5h0.75M181.3,533.4h0.75M200.6,529.6h0.75M192.5,537.9h0.75M196.1,532.2h0.75M206.6,535.8h0.75M188.9,535.8h0.75M188.1,531.4h0.75M181.0,526.0h0.75M205.9,536.1h0.75M199.6,533.0h0.75M184.3,532.6h0.75M186.6,528.6h0.75M204.0,533.4h0.75M187.8,528.6h0.75M182.1,530.0h0.75M203.9,527.1h0.75M186.1,527.6h0.75M220.7,529.0h0.75M200.3,525.6h0.75M186.8,524.8h0.75M205.4,527.4h0.75M200.2,527.7h0.75M196.5,537.2h0.75M185.0,530.1h0.75M210.8,529.9h0.75M191.3,534.4h0.75M193.8,529.3h0.75M182.9,531.2h0.75M181.8,528.4h0.75M190.8,532.6h0.75M185.7,539.3h0.75M182.6,528.9h0.75M186.6,531.0h0.75M192.0,533.9h0.75M190.5,527.4h0.75M196.0,526.9h0.75M181.3,540.2h0.75M186.8,534.2h0.75M214.7,534.3h0.75M193.1,526.4h0.75M204.1,530.8h0.75M193.1,524.6h0.75M181.6,529.4h0.75M205.2,527.4h0.75M183.4,535.8h0.75M191.5,525.8h0.75M181.3,530.3h0.75M188.0,535.5h0.75M188.0,537.9h0.75M182.8,532.8h0.75M200.5,527.4h0.75M205.1,535.3h0.75M182.7,531.7h0.75M182.1,537.3h0.75M188.9,531.0h0.75M202.8,533.5h0.75M195.3,531.0h0.75M205.4,528.1h0.75M193.9,532.3h0.75M205.0,533.9h0.75M181.5,524.8h0.75M185.1,530.3h0.75M189.3,537.8h0.75M202.8,530.9h0.75M189.5,529.9h0.75M189.9,525.1h0.75M180.9,536.9h0.75M190.8,537.4h0.75M199.5,526.5h0.75" stroke="#8c8c8c" stroke-width="0.75"/>
<ellipse cx="167.8" cy="531.5" rx="9.2" ry="7.8" transform="rotate(-20 167.8 531.5)" fill="url(#halo)"/>
<path d="M169.9,535.8h0.8M163.6,536.8h0.8M178.0,528.4h0.8M168.5,536.5h0.8M165.9,525.8h0.8M171.9,534.4h0.8M173.6,528.4h0.8M170.1,527.1h0.8M179.1,537.0h0.8M161.9,533.8h0.8M170.7,536.2h0.8M180.4,532.9h0.8M169.0,526.3h0.8M174.3,538.8h0.8M167.2,536.5h0.8M166.1,536.6h0.8M161.7,536.5h0.8M172.6,537.9h0.8M172.1,528.1h0.8M166.1,527.0h0.8M166.4,526.2h0.8M178.3,529.6h0.8M175.3,530.0h0.8M169.4,522.3h0.8M171.4,525.8h0.8M164.2,541.6h0.8M164.0,536.1h0.8M169.7,536.2h0.8M174.4,524.1h0.8M175.8,527.4h0.8M163.1,528.2h0.8M175.1,525.7h0.8M170.2,537.7h0.8M175.6,528.8h0.8M176.1,528.0h0.8M180.5,530.5h0.8M170.8,527.1h0.8M164.6,538.6h0.8M171.7,524.9h0.8M170.3,537.3h0.8M175.0,534.7h0.8M167.9,526.7h0.8M172.5,534.7h0.8M161.6,537.6h0.8M174.5,525.3h0.8M173.2,527.6h0.8M170.4,523.1h0.8M164.1,540.7h0.8M167.9,526.0h0.8M163.7,525.9h0.8M165.0,540.5h0.8M162.7,536.9h0.8M169.3,526.3h0.8M162.7,533.7h0.8M161.9,529.4h0.8M172.0,524.8h0.8M173.2,530.5h0.8M170.9,537.6h0.8M172.7,536.6h0.8M173.1,525.6h0.8M169.5,526.7h0.8M176.5,529.4h0.8M165.2,526.4h0.8M161.5,538.6h0.8M173.8,531.7h0.8M163.2,536.9h0.8M165.8,536.7h0.8M161.6,538.2h0.8M161.1,532.2h0.8M161.7,528.0h0.8M177.7,525.8h0.8M172.4,540.4h0.8M176.4,531.5h0.8M166.1,541.3h0.8M162.8,526.8h0.8M165.0,524.4h0.8M170.0,523.3h0.8M164.9,536.6h0.8M173.0,527.4h0.8M162.1,530.1h0.8M163.9,540.3h0.8M168.8,523.8h0.8M173.9,532.1h0.8M178.8,527.2h0.8M171.8,527.1h0.8M165.0,523.4h0.8M169.2,524.5h0.8M173.0,532.7h0.8M161.9,525.4h0.8M176.6,526.8h0.8M162.9,527.6h0.8M177.0,534.7h0.8M165.1,537.7h0.8M173.3,532.6h0.8M174.6,528.3h0.8M171.8,538.0h0.8M181.1,526.3h0.8M166.4,522.8h0.8M163.8,534.9h0.8M176.3,528.5h0.8M168.2,537.9h0.8M165.2,537.2h0.8M171.5,525.0h0.8M167.4,524.5h0.8M164.1,525.9h0.8M170.3,535.4h0.8M174.1,531.5h0.8M164.0,527.7h0.8M179.0,526.9h0.8M165.9,540.9h0.8M163.5,527.7h0.8M179.7,533.5h0.8M175.8,528.6h0.8M171.2,536.4h0.8M161.3,530.5h0.8M164.5,525.4h0.8M162.0,525.8h0.8M163.6,524.8h0.8M173.6,535.6h0.8M175.6,534.3h0.8M177.8,532.4h0.8M161.1,533.3h0.8M169.8,536.3h0.8M178.6,533.7h0.8M161.2,525.4h0.8M167.6,525.1h0.8M171.2,526.0h0.8M165.9,536.9h0.8M163.7,538.1h0.8M182.9,526.8h0.8M166.1,536.4h0.8" stroke="#6a6a6a" stroke-width="0.8"/>
<path d="M165.5,515.6h0.6M173.0,503.5h0.6M167.4,505.5h0.6M167.4,514.2h0.6M167.6,499.2h0.6M171.1,514.6h0.6" stroke="#c8c8c8" stroke-width="0.6"/>
<ellipse cx="167.8" cy="531.5" rx="6.5" ry="5.5" transform="rotate(-20 167.8 531.5)" fill="url(#blob)" fill-opacity="0.85"/>
<path d="M165.4,533.9h0.8M169.0,529.9h0.8M171.0,530.6h0.8M169.0,532.2h0.8M166.1,533.3h0.8M170.1,529.2h0.8M165.2,528.2h0.8M170.7,534.9h0.8M165.8,531.4h0.8M172.5,532.8h0.8M166.9,532.3h0.8M167.8,532.2h0.8M168.0,535.1h0.8M169.2,530.1h0.8M164.4,533.4h0.8M166.1,534.5h0.8M169.1,531.6h0.8M167.9,529.6h0.8M167.2,534.5h0.8M164.5,531.3h0.8M163.2,534.1h0.8M162.9,532.6h0.8M171.0,531.4h0.8M163.6,529.5h0.8M171.7,530.8h0.8M170.9,530.2h0.8M172.0,528.9h0.8M168.4,530.9h0.8M163.6,529.6h0.8M172.9,530.0h0.8M171.9,528.9h0.8M170.9,528.5h0.8M169.2,527.2h0.8M167.4,534.9h0.8M169.4,532.8h0.8M167.2,529.1h0.8M168.2,535.0h0.8M166.5,535.7h0.8M169.0,528.6h0.8M164.2,528.7h0.8M172.4,529.0h0.8M170.3,530.5h0.8M168.2,529.2h0.8M166.3,531.1h0.8M172.5,529.5h0.8M172.7,531.0h0.8M168.6,534.2h0.8M165.3,534.2h0.8M167.2,534.6h0.8M171.1,528.0h0.8M167.1,534.5h0.8M167.6,532.9h0.8M162.9,532.9h0.8M170.3,530.7h0.8M170.1,531.9h0.8M166.7,531.6h0.8M167.4,532.4h0.8M170.2,527.1h0.8M170.2,534.2h0.8M166.2,529.8h0.8M166.6,527.6h0.8M171.1,530.2h0.8M167.3,527.1h0.8M169.5,527.4h0.8M168.2,529.2h0.8M168.3,528.8h0.8M167.2,532.4h0.8M170.6,527.9h0.8M167.8,528.9h0.8M165.5,534.2h0.8M165.2,529.9h0.8M171.6,531.5h0.8M164.5,534.1h0.8M171.7,533.3h0.8M166.3,535.6h0.8M165.2,530.9h0.8M165.1,534.7h0.8M171.4,531.7h0.8M172.8,530.6h0.8M164.4,528.8h0.8M170.7,532.8h0.8M163.6,533.6h0.8" stroke="#222" stroke-width="0.8" stroke-opacity="0.8"/>
<path d="M180.5,482.5V542.7M160.2,523.3H222.5" stroke="#7a7a7a" stroke-width="0.85"/>
<text x="162.0" y="492.8" font-size="6.8" fill="#222" stroke="#222" stroke-width="0.25">1.84%</text>
<text x="202.4" y="528.8" font-size="6.8" fill="#222" stroke="#222" stroke-width="0.25">17.3%</text>
<text x="202.4" y="537.8" font-size="6.8" fill="#222" stroke="#222" stroke-width="0.25">(232)</text>
<rect x="66.8" y="564.8" width="63.8" height="61.1" fill="#f6f6f6" stroke="#a0a0a0" stroke-width="0.85"/>
<path d="M64.6,625.9h2.2M61.2,625.9h2.6" stroke="#aaa" stroke-width="0.8"/>
<path d="M66.8,625.9v2.2M65.5,629.3h2.6" stroke="#aaa" stroke-width="0.8"/>
<path d="M64.6,610.6h2.2M61.2,610.6h2.6" stroke="#aaa" stroke-width="0.8"/>
<path d="M82.8,625.9v2.2M81.5,629.3h2.6" stroke="#aaa" stroke-width="0.8"/>
<path d="M64.6,595.3h2.2M61.2,595.3h2.6" stroke="#aaa" stroke-width="0.8"/>
<path d="M98.7,625.9v2.2M97.4,629.3h2.6" stroke="#aaa" stroke-width="0.8"/>
<path d="M64.6,580.1h2.2M61.2,580.1h2.6" stroke="#aaa" stroke-width="0.8"/>
<path d="M114.6,625.9v2.2M113.3,629.3h2.6" stroke="#aaa" stroke-width="0.8"/>
<path d="M64.6,564.8h2.2M61.2,564.8h2.6" stroke="#aaa" stroke-width="0.8"/>
<path d="M130.6,625.9v2.2M129.3,629.3h2.6" stroke="#aaa" stroke-width="0.8"/>
<path d="M89.3,620.1h0.75M102.2,611.4h0.75M87.7,611.4h0.75M87.0,613.5h0.75M90.2,621.0h0.75M91.0,616.9h0.75M100.6,612.0h0.75M107.2,617.6h0.75M125.3,613.1h0.75M111.0,609.8h0.75M93.6,615.6h0.75M119.9,611.6h0.75M86.5,617.9h0.75M101.7,610.4h0.75M91.1,616.3h0.75M89.3,612.8h0.75M88.2,615.4h0.75M90.8,618.9h0.75M102.4,610.7h0.75M86.0,616.2h0.75M89.8,616.7h0.75M86.2,618.2h0.75M128.8,616.6h0.75M88.5,612.6h0.75M98.5,611.8h0.75M93.2,615.4h0.75M90.3,616.6h0.75M113.6,616.1h0.75M86.2,613.0h0.75M87.9,619.6h0.75M89.3,615.9h0.75M102.1,609.2h0.75M102.8,608.0h0.75M97.2,619.8h0.75M88.5,614.9h0.75M87.4,623.1h0.75M102.5,611.1h0.75M105.5,621.1h0.75M90.7,610.4h0.75M92.6,613.7h0.75M90.8,610.4h0.75M98.2,615.2h0.75M108.4,611.6h0.75M91.8,616.2h0.75M128.4,614.1h0.75M98.8,610.8h0.75M87.6,610.0h0.75M101.1,612.2h0.75M95.9,618.9h0.75M89.2,618.0h0.75M122.9,615.3h0.75M89.2,611.1h0.75M88.0,617.6h0.75M98.0,613.3h0.75M90.5,610.4h0.75M93.5,612.2h0.75M94.9,613.5h0.75M104.1,618.8h0.75M94.1,610.8h0.75M97.6,623.1h0.75M110.7,622.3h0.75M107.7,610.0h0.75M97.7,615.9h0.75M100.4,616.3h0.75M88.5,614.6h0.75M126.0,614.4h0.75M97.6,616.7h0.75M92.6,615.2h0.75M90.6,614.2h0.75M95.6,613.0h0.75M89.0,615.6h0.75M122.9,616.5h0.75M110.9,617.9h0.75M115.8,610.4h0.75M103.2,611.2h0.75M93.8,611.1h0.75M101.2,609.9h0.75M99.0,614.0h0.75M92.6,613.8h0.75M94.0,622.1h0.75M93.0,616.0h0.75M90.1,618.4h0.75M97.1,615.0h0.75M93.2,614.2h0.75M100.1,615.4h0.75M86.7,616.7h0.75M101.4,617.5h0.75M86.9,608.8h0.75M108.7,621.6h0.75M107.3,611.4h0.75M104.0,611.7h0.75M88.5,614.2h0.75M118.5,614.7h0.75M96.0,610.6h0.75M86.9,617.6h0.75M92.1,613.7h0.75M87.2,612.6h0.75M91.2,614.5h0.75M114.9,611.8h0.75M86.1,616.4h0.75M97.3,612.8h0.75M90.4,618.4h0.75M96.3,611.9h0.75M110.0,618.1h0.75M97.8,618.6h0.75M95.2,617.2h0.75M89.4,617.5h0.75M118.3,616.6h0.75M87.7,615.5h0.75M105.5,620.9h0.75M90.0,616.1h0.75M95.8,608.3h0.75M91.8,608.4h0.75M87.2,611.8h0.75M103.8,610.6h0.75M90.1,616.7h0.75M95.9,614.0h0.75M86.2,612.8h0.75M112.8,614.5h0.75M100.3,616.3h0.75M97.8,610.5h0.75M99.4,615.3h0.75M90.4,615.4h0.75M86.9,615.1h0.75M93.6,615.1h0.75M91.9,619.9h0.75M106.6,612.1h0.75M86.1,608.5h0.75M98.6,615.4h0.75M86.7,614.7h0.75M86.2,613.6h0.75M102.8,610.9h0.75M104.9,614.6h0.75M104.8,610.3h0.75M92.3,613.6h0.75M97.8,617.7h0.75M102.4,610.3h0.75M120.5,609.8h0.75M89.1,613.0h0.75M107.2,618.1h0.75M99.3,614.7h0.75M94.6,615.4h0.75M95.7,616.3h0.75M122.6,619.7h0.75M89.3,613.4h0.75M87.5,611.2h0.75M91.1,616.4h0.75M101.5,618.6h0.75M99.4,615.5h0.75" stroke="#8c8c8c" stroke-width="0.75"/>
<ellipse cx="76.8" cy="614.8" rx="7.5" ry="10.2" transform="rotate(-10 76.8 614.8)" fill="url(#halo)"/>
<path d="M81.2,624.8h0.8M87.2,622.5h0.8M78.0,621.0h0.8M70.2,619.0h0.8M81.0,617.4h0.8M85.0,612.7h0.8M82.0,616.5h0.8M73.3,610.4h0.8M78.3,606.0h0.8M84.7,615.8h0.8M73.8,619.0h0.8M75.9,624.7h0.8M83.0,622.2h0.8M81.4,614.7h0.8M69.7,615.8h0.8M70.2,617.1h0.8M69.6,607.6h0.8M69.7,621.1h0.8M73.7,605.2h0.8M78.7,621.5h0.8M82.7,610.7h0.8M83.9,624.9h0.8M83.7,608.7h0.8M80.9,618.9h0.8M70.5,622.2h0.8M83.5,615.1h0.8M69.6,616.7h0.8M72.5,617.7h0.8M72.4,622.6h0.8M82.7,615.2h0.8M73.5,607.0h0.8M83.2,618.6h0.8M70.7,609.1h0.8M81.2,619.3h0.8M78.8,621.4h0.8M70.9,619.9h0.8M84.1,620.7h0.8M73.5,609.1h0.8M82.4,615.1h0.8M71.2,609.7h0.8M73.2,618.8h0.8M80.4,605.1h0.8M82.9,621.1h0.8M82.0,614.2h0.8M77.0,622.0h0.8M82.7,611.3h0.8M68.2,610.6h0.8M76.5,608.6h0.8M69.0,608.1h0.8M72.2,614.4h0.8M72.2,617.2h0.8M84.7,612.4h0.8M83.2,615.6h0.8M71.2,614.1h0.8M73.0,620.6h0.8M72.8,624.4h0.8M83.3,608.4h0.8M69.4,619.3h0.8M74.9,620.7h0.8M81.6,625.0h0.8M71.6,619.5h0.8M85.0,607.0h0.8M85.1,613.7h0.8M77.7,624.7h0.8M85.5,621.9h0.8M81.1,607.8h0.8M76.3,607.7h0.8M74.5,606.6h0.8M83.4,606.8h0.8M71.0,615.1h0.8M88.9,615.3h0.8M82.3,612.3h0.8M81.9,615.1h0.8M71.9,623.2h0.8M70.8,623.5h0.8M82.8,608.6h0.8M72.5,621.2h0.8M72.6,621.3h0.8M72.0,621.1h0.8M72.8,617.1h0.8M74.0,607.7h0.8M85.3,624.4h0.8M74.9,609.2h0.8M81.8,619.8h0.8M88.8,615.5h0.8M75.6,607.7h0.8M79.0,608.4h0.8M81.5,609.1h0.8M75.9,624.9h0.8M82.9,612.7h0.8M70.6,618.9h0.8M81.1,620.5h0.8M78.5,622.6h0.8M82.2,606.8h0.8M83.8,614.7h0.8M86.9,619.6h0.8M68.4,616.8h0.8M71.9,613.2h0.8M73.1,610.6h0.8M72.5,609.2h0.8M75.7,621.5h0.8M72.4,611.8h0.8M83.4,615.1h0.8M69.6,617.3h0.8M81.5,607.9h0.8M82.0,606.3h0.8M72.1,608.7h0.8M70.0,606.4h0.8M71.4,607.3h0.8M84.0,621.3h0.8M69.6,606.2h0.8M73.3,623.0h0.8M78.0,622.7h0.8M69.7,613.5h0.8M86.6,619.5h0.8M68.9,607.3h0.8M77.0,608.4h0.8M81.4,607.8h0.8M87.6,616.0h0.8M71.6,616.6h0.8M82.2,618.2h0.8M89.4,614.3h0.8M83.7,624.9h0.8M75.9,606.9h0.8M81.8,612.2h0.8M68.4,615.3h0.8M75.8,608.8h0.8M80.2,604.4h0.8M81.2,623.9h0.8M81.5,615.6h0.8M81.5,609.6h0.8M86.3,608.8h0.8M80.0,620.9h0.8M69.7,616.2h0.8M71.3,617.4h0.8M70.1,609.6h0.8M78.2,624.0h0.8M82.5,607.6h0.8M77.0,623.1h0.8" stroke="#6a6a6a" stroke-width="0.8"/>
<path d="M74.5,579.6h0.6M74.4,597.1h0.6M74.2,595.7h0.6M70.7,587.5h0.6M75.3,590.9h0.6M72.4,596.2h0.6" stroke="#c8c8c8" stroke-width="0.6"/>
<ellipse cx="76.8" cy="614.8" rx="5.3" ry="7.2" transform="rotate(-10 76.8 614.8)" fill="url(#blob)" fill-opacity="1.0"/>
<path d="M76.5,616.3h0.8M75.1,617.4h0.8M78.9,613.7h0.8M78.3,614.4h0.8M73.5,611.4h0.8M77.7,616.4h0.8M73.9,614.7h0.8M74.7,618.1h0.8M74.9,617.6h0.8M79.3,616.9h0.8M74.9,609.7h0.8M76.4,613.4h0.8M80.3,613.9h0.8M79.6,613.6h0.8M74.5,613.3h0.8M77.3,614.2h0.8M73.0,612.2h0.8M78.3,609.5h0.8M73.8,618.3h0.8M74.7,613.1h0.8M77.8,613.3h0.8M80.4,615.1h0.8M77.4,620.0h0.8M73.7,617.7h0.8M73.6,613.2h0.8M75.5,616.7h0.8M73.3,617.8h0.8M77.4,609.7h0.8M75.3,614.3h0.8M79.0,614.2h0.8M72.9,614.4h0.8M77.2,618.0h0.8M79.1,618.3h0.8M75.4,617.3h0.8M73.9,615.3h0.8M80.2,617.4h0.8M78.2,618.3h0.8M77.0,612.6h0.8M78.3,616.7h0.8M76.0,613.7h0.8M76.4,618.4h0.8M78.5,611.4h0.8M77.5,612.2h0.8M78.9,613.7h0.8M73.6,615.2h0.8M74.8,617.2h0.8M76.8,611.9h0.8M75.7,619.5h0.8M76.1,610.3h0.8M78.8,615.4h0.8M78.4,614.1h0.8M75.2,615.8h0.8M74.8,617.3h0.8M75.3,609.9h0.8M73.5,611.4h0.8M73.7,613.2h0.8M75.9,613.8h0.8M80.8,616.7h0.8M77.7,616.2h0.8M74.9,613.4h0.8M76.3,611.0h0.8M73.9,618.7h0.8M77.6,619.3h0.8M77.5,610.2h0.8M74.4,609.8h0.8M76.9,619.2h0.8M73.0,613.1h0.8M80.3,618.9h0.8M79.9,613.4h0.8M76.9,620.7h0.8M79.7,617.4h0.8M74.4,615.7h0.8M77.0,610.5h0.8M79.7,617.7h0.8M77.4,616.5h0.8M78.7,616.9h0.8M77.2,614.4h0.8M79.2,613.8h0.8M77.7,612.9h0.8M78.4,616.4h0.8M80.3,617.3h0.8M80.0,616.3h0.8" stroke="#222" stroke-width="0.8" stroke-opacity="0.8"/>
<path d="M85.6,564.8V625.9M66.8,606.5H130.6" stroke="#7a7a7a" stroke-width="0.85"/>
<text x="67.3" y="576.9" font-size="6.8" fill="#222" stroke="#222" stroke-width="0.25">0.70%</text>
<text x="109.0" y="613.3" font-size="6.8" fill="#222" stroke="#222" stroke-width="0.25">12.3%</text>
<text x="109.0" y="622.2" font-size="6.8" fill="#222" stroke="#222" stroke-width="0.25">(85.6)</text>
<rect x="160.2" y="565.4" width="62.3" height="60.5" fill="#f6f6f6" stroke="#a0a0a0" stroke-width="0.85"/>
<path d="M158.0,625.9h2.2M154.6,625.9h2.6" stroke="#aaa" stroke-width="0.8"/>
<path d="M160.2,625.9v2.2M158.9,629.3h2.6" stroke="#aaa" stroke-width="0.8"/>
<path d="M158.0,610.8h2.2M154.6,610.8h2.6" stroke="#aaa" stroke-width="0.8"/>
<path d="M175.8,625.9v2.2M174.5,629.3h2.6" stroke="#aaa" stroke-width="0.8"/>
<path d="M158.0,595.6h2.2M154.6,595.6h2.6" stroke="#aaa" stroke-width="0.8"/>
<path d="M191.3,625.9v2.2M190.0,629.3h2.6" stroke="#aaa" stroke-width="0.8"/>
<path d="M158.0,580.5h2.2M154.6,580.5h2.6" stroke="#aaa" stroke-width="0.8"/>
<path d="M206.9,625.9v2.2M205.6,629.3h2.6" stroke="#aaa" stroke-width="0.8"/>
<path d="M158.0,565.4h2.2M154.6,565.4h2.6" stroke="#aaa" stroke-width="0.8"/>
<path d="M222.5,625.9v2.2M221.2,629.3h2.6" stroke="#aaa" stroke-width="0.8"/>
<path d="M192.3,618.3h0.75M179.3,616.8h0.75M188.2,608.0h0.75M178.5,615.8h0.75M186.9,614.2h0.75M188.1,621.7h0.75M197.6,617.9h0.75M192.3,616.3h0.75M182.5,611.9h0.75M208.5,613.0h0.75M180.4,610.8h0.75M191.8,610.2h0.75M192.5,610.6h0.75M181.3,612.4h0.75M178.6,611.0h0.75M178.8,621.9h0.75M195.6,610.9h0.75M183.3,612.9h0.75M193.6,616.3h0.75M209.1,616.0h0.75M197.3,615.5h0.75M187.6,611.0h0.75M205.5,621.0h0.75M192.7,618.9h0.75M204.7,623.9h0.75M191.3,613.5h0.75M189.5,609.3h0.75M185.3,609.4h0.75M182.6,615.7h0.75M191.6,612.6h0.75M196.7,616.6h0.75M188.5,614.6h0.75M206.8,608.5h0.75M185.6,614.6h0.75M181.4,616.8h0.75M183.0,617.1h0.75M219.4,615.6h0.75M179.7,611.5h0.75M187.2,614.8h0.75M197.4,613.9h0.75M182.8,612.2h0.75M198.2,610.5h0.75M180.1,610.2h0.75M183.4,612.8h0.75M178.3,618.2h0.75M179.8,623.0h0.75M194.7,615.9h0.75M183.9,619.7h0.75M207.0,619.6h0.75M206.7,608.7h0.75M180.1,617.0h0.75M178.5,612.7h0.75M184.5,610.7h0.75M217.2,611.1h0.75M205.1,621.1h0.75M204.3,610.7h0.75M180.0,616.2h0.75M187.1,614.7h0.75M191.9,614.9h0.75M190.9,610.4h0.75M180.4,612.1h0.75M189.3,608.1h0.75M215.1,618.4h0.75M197.0,614.5h0.75" stroke="#8c8c8c" stroke-width="0.75"/>
<ellipse cx="169.8" cy="614.5" rx="7.5" ry="10.2" transform="rotate(-10 169.8 614.5)" fill="url(#halo)"/>
<path d="M174.2,616.4h0.8M164.1,614.1h0.8M174.7,606.0h0.8M166.9,609.0h0.8M165.1,616.0h0.8M162.6,613.8h0.8M172.5,620.4h0.8M174.0,619.3h0.8M176.0,618.9h0.8M168.8,624.9h0.8M176.7,618.6h0.8M174.7,612.2h0.8M167.9,622.5h0.8M171.8,608.9h0.8M176.7,616.9h0.8M178.3,611.6h0.8M177.8,615.1h0.8M164.5,621.2h0.8M175.3,617.4h0.8M167.1,620.3h0.8M176.5,613.8h0.8M166.2,619.7h0.8M178.2,615.1h0.8M181.2,622.6h0.8M172.1,608.3h0.8M172.7,624.0h0.8M165.0,610.2h0.8M169.8,608.4h0.8M162.8,609.3h0.8M182.2,609.0h0.8M165.2,613.1h0.8M171.9,623.5h0.8M175.8,619.4h0.8M169.4,622.0h0.8M168.1,606.2h0.8M174.9,617.5h0.8M175.5,616.1h0.8M177.9,614.5h0.8M173.7,624.4h0.8M177.0,618.6h0.8M168.2,621.0h0.8M174.9,608.4h0.8M174.9,619.3h0.8M161.8,613.4h0.8M178.6,621.9h0.8M173.9,620.1h0.8M171.8,621.9h0.8M170.1,607.6h0.8M174.9,615.1h0.8M170.3,621.1h0.8M174.5,619.0h0.8M163.0,613.9h0.8M161.6,612.2h0.8M176.4,609.3h0.8M161.3,618.3h0.8M175.8,621.0h0.8M164.4,614.2h0.8M178.5,612.2h0.8M175.7,620.0h0.8M181.5,615.8h0.8M170.6,606.2h0.8M166.7,606.3h0.8M174.4,606.6h0.8M176.8,607.8h0.8M166.0,609.6h0.8M165.1,621.8h0.8M167.0,619.4h0.8M171.3,607.5h0.8M173.8,608.0h0.8M174.5,623.4h0.8M165.3,609.1h0.8M166.6,606.6h0.8M168.5,608.0h0.8M166.1,620.5h0.8M165.7,606.7h0.8M174.5,613.4h0.8M164.4,610.0h0.8M170.5,606.9h0.8M165.6,608.2h0.8M170.1,623.4h0.8M170.5,623.8h0.8M176.7,615.4h0.8M170.2,623.5h0.8M171.7,621.2h0.8M162.1,622.0h0.8M179.9,611.8h0.8M178.2,619.4h0.8M168.0,620.6h0.8M176.4,615.1h0.8M165.0,614.9h0.8M164.9,610.1h0.8M178.1,623.1h0.8M185.3,622.5h0.8M177.2,613.7h0.8M173.8,623.9h0.8M164.4,619.4h0.8M164.1,615.2h0.8M169.0,624.7h0.8M166.2,606.4h0.8M164.7,614.9h0.8M167.8,606.6h0.8M174.1,623.5h0.8M166.3,608.4h0.8M162.6,618.9h0.8M174.7,608.5h0.8M173.5,610.8h0.8M165.4,616.9h0.8M170.4,607.9h0.8M163.5,620.4h0.8M174.3,614.2h0.8M175.3,607.3h0.8M167.0,602.0h0.8M182.8,613.9h0.8M177.1,607.4h0.8M169.7,621.8h0.8M162.5,606.7h0.8M171.8,607.9h0.8M166.1,620.6h0.8M174.3,614.6h0.8M174.7,603.6h0.8M166.0,621.9h0.8M178.8,615.2h0.8M161.4,611.9h0.8M168.0,623.1h0.8M175.2,611.3h0.8M174.3,622.0h0.8" stroke="#6a6a6a" stroke-width="0.8"/>
<path d="M173.6,601.5h0.6M167.3,587.2h0.6M176.7,598.9h0.6M173.7,584.0h0.6M175.8,593.5h0.6M169.1,584.0h0.6" stroke="#c8c8c8" stroke-width="0.6"/>
<ellipse cx="169.8" cy="614.5" rx="5.3" ry="7.2" transform="rotate(-10 169.8 614.5)" fill="url(#blob)" fill-opacity="1.0"/>
<path d="M171.7,616.2h0.8M166.0,615.6h0.8M170.1,617.2h0.8M168.4,614.2h0.8M170.4,620.4h0.8M171.4,615.9h0.8M168.3,610.6h0.8M168.6,618.1h0.8M168.5,615.4h0.8M170.3,614.2h0.8M169.0,618.9h0.8M166.7,617.7h0.8M170.6,617.4h0.8M168.7,608.7h0.8M167.8,611.0h0.8M168.4,613.9h0.8M169.1,619.9h0.8M169.9,610.6h0.8M170.8,616.1h0.8M168.8,614.7h0.8M170.4,617.6h0.8M173.9,612.9h0.8M172.5,612.6h0.8M173.4,614.7h0.8M170.6,617.7h0.8M171.1,615.3h0.8M166.1,611.9h0.8M170.3,611.5h0.8M168.4,609.4h0.8M169.8,614.6h0.8M166.2,612.9h0.8M170.2,617.4h0.8M171.6,619.2h0.8M174.2,615.9h0.8M168.8,612.2h0.8M171.6,615.5h0.8M167.1,611.1h0.8M167.6,610.8h0.8M171.3,613.2h0.8M167.0,610.3h0.8M171.5,613.8h0.8M171.6,617.0h0.8M166.6,613.9h0.8M173.5,612.7h0.8M173.7,617.2h0.8M171.7,617.2h0.8M169.5,616.6h0.8M173.7,615.3h0.8M168.9,612.8h0.8M173.1,616.7h0.8M172.1,612.2h0.8M166.9,614.8h0.8M172.3,612.1h0.8M173.9,613.6h0.8M168.6,611.7h0.8M170.3,610.4h0.8M172.2,616.6h0.8M168.9,618.2h0.8M170.8,617.2h0.8M167.5,612.8h0.8M168.6,612.8h0.8M165.8,613.9h0.8M168.6,614.3h0.8M172.4,614.9h0.8M170.3,608.7h0.8M170.5,617.7h0.8M170.6,609.3h0.8M169.0,608.6h0.8M169.2,610.8h0.8M173.1,611.5h0.8M169.2,612.9h0.8M171.3,615.6h0.8M167.1,616.0h0.8M167.1,613.9h0.8M172.4,619.3h0.8M172.5,613.4h0.8M171.2,612.6h0.8M171.4,610.8h0.8M167.8,617.4h0.8M171.4,613.3h0.8M170.1,614.9h0.8M173.4,615.3h0.8M168.9,611.0h0.8M168.8,612.9h0.8M168.6,618.2h0.8M171.7,619.0h0.8M171.2,614.4h0.8M168.4,610.4h0.8M170.1,613.2h0.8" stroke="#222" stroke-width="0.8" stroke-opacity="0.8"/>
<path d="M177.9,565.4V625.9M160.2,606.6H222.5" stroke="#7a7a7a" stroke-width="0.85"/>
<text x="160.9" y="574.9" font-size="6.8" fill="#222" stroke="#222" stroke-width="0.25">0.66%</text>
<text x="202.4" y="613.0" font-size="6.8" fill="#222" stroke="#222" stroke-width="0.25">5.03%</text>
<text x="202.4" y="621.6" font-size="6.8" fill="#222" stroke="#222" stroke-width="0.25">(84.5)</text>
<rect x="246.8" y="66.8" width="61.7" height="61.5" fill="#fff" stroke="#909090" stroke-width="1.15"/>
<path d="M245.3,128.3h1.5M245.3,125.7h1.5M245.3,123.2h1.5M245.3,120.6h1.5M245.3,118.1h1.5M245.3,115.5h1.5M245.3,112.9h1.5M245.3,110.4h1.5M245.3,107.8h1.5M245.3,105.2h1.5M245.3,102.7h1.5M245.3,100.1h1.5M245.3,97.5h1.5M245.3,95.0h1.5M245.3,92.4h1.5M245.3,89.9h1.5M245.3,87.3h1.5M245.3,84.7h1.5M245.3,82.2h1.5M245.3,79.6h1.5M245.3,77.1h1.5M245.3,74.5h1.5M245.3,71.9h1.5M245.3,69.4h1.5M245.3,66.8h1.5" stroke="#666" stroke-width="0.6"/>
<text x="244.4" y="129.6" font-size="3.6" text-anchor="end" fill="#777">0</text>
<text x="244.4" y="109.1" font-size="3.6" text-anchor="end" fill="#777">5</text>
<text x="244.4" y="88.6" font-size="3.6" text-anchor="end" fill="#777">10</text>
<text x="244.4" y="68.1" font-size="3.6" text-anchor="end" fill="#777">15</text>
<text transform="translate(247.0,133.9) rotate(-30)" font-size="3.3" text-anchor="middle" fill="#777">10<tspan font-size="2.6" dy="-1.4">0</tspan></text>
<text transform="translate(262.4,133.9) rotate(-30)" font-size="3.3" text-anchor="middle" fill="#777">10<tspan font-size="2.6" dy="-1.4">1</tspan></text>
<text transform="translate(277.8,133.9) rotate(-30)" font-size="3.3" text-anchor="middle" fill="#777">10<tspan font-size="2.6" dy="-1.4">2</tspan></text>
<text transform="translate(293.3,133.9) rotate(-30)" font-size="3.3" text-anchor="middle" fill="#777">10<tspan font-size="2.6" dy="-1.4">3</tspan></text>
<text transform="translate(308.7,133.9) rotate(-30)" font-size="3.3" text-anchor="middle" fill="#777">10<tspan font-size="2.6" dy="-1.4">4</tspan></text>
<path d="M246.8,128.3v1.8M262.2,128.3v1.8M277.6,128.3v1.8M293.1,128.3v1.8M308.5,128.3v1.8" stroke="#888" stroke-width="0.7"/>
<polygon points="246.8,128.3 264.3,128.0 264.6,104.0 266.0,103.0 268.0,101.5 269.5,106.0 271.0,104.5 272.5,106.0 274.0,108.0 275.5,111.0 276.5,116.0 277.5,123.0 279.0,125.5 281.0,125.3 282.5,126.5 284.0,128.0 308.5,128.3" fill="#999"/>
<polyline points="246.8,128.3 264.2,128.0 264.8,104.0 265.7,98.9 267.3,109.5 268.5,108.5 270.0,106.2 271.3,104.5 272.1,99.7 274.0,111.6 275.5,102.4 277.0,109.7 278.4,115.1 279.5,112.8 280.9,120.5 282.6,112.2 284.0,117.4 285.5,116.5 286.5,118.2 287.8,122.8 289.5,125.0 291.8,127.2 294.0,128.0 308.5,128.3" fill="none" stroke="#000" stroke-width="1.9" stroke-linejoin="round"/>
<rect x="247.1" y="149.5" width="60.9" height="61.5" fill="#fff" stroke="#909090" stroke-width="1.15"/>
<path d="M245.6,211.0h1.5M245.6,208.4h1.5M245.6,205.9h1.5M245.6,203.3h1.5M245.6,200.8h1.5M245.6,198.2h1.5M245.6,195.6h1.5M245.6,193.1h1.5M245.6,190.5h1.5M245.6,187.9h1.5M245.6,185.4h1.5M245.6,182.8h1.5M245.6,180.2h1.5M245.6,177.7h1.5M245.6,175.1h1.5M245.6,172.6h1.5M245.6,170.0h1.5M245.6,167.4h1.5M245.6,164.9h1.5M245.6,162.3h1.5M245.6,159.8h1.5M245.6,157.2h1.5M245.6,154.6h1.5M245.6,152.1h1.5M245.6,149.5h1.5" stroke="#666" stroke-width="0.6"/>
<text x="244.7" y="212.3" font-size="3.6" text-anchor="end" fill="#777">0</text>
<text x="244.7" y="196.9" font-size="3.6" text-anchor="end" fill="#777">25</text>
<text x="244.7" y="181.6" font-size="3.6" text-anchor="end" fill="#777">50</text>
<text x="244.7" y="166.2" font-size="3.6" text-anchor="end" fill="#777">75</text>
<text x="244.7" y="150.8" font-size="3.6" text-anchor="end" fill="#777">100</text>
<text transform="translate(247.3,216.6) rotate(-30)" font-size="3.3" text-anchor="middle" fill="#777">10<tspan font-size="2.6" dy="-1.4">0</tspan></text>
<text transform="translate(262.5,216.6) rotate(-30)" font-size="3.3" text-anchor="middle" fill="#777">10<tspan font-size="2.6" dy="-1.4">1</tspan></text>
<text transform="translate(277.8,216.6) rotate(-30)" font-size="3.3" text-anchor="middle" fill="#777">10<tspan font-size="2.6" dy="-1.4">2</tspan></text>
<text transform="translate(293.0,216.6) rotate(-30)" font-size="3.3" text-anchor="middle" fill="#777">10<tspan font-size="2.6" dy="-1.4">3</tspan></text>
<text transform="translate(308.2,216.6) rotate(-30)" font-size="3.3" text-anchor="middle" fill="#777">10<tspan font-size="2.6" dy="-1.4">4</tspan></text>
<path d="M247.1,211.0v1.8M262.3,211.0v1.8M277.6,211.0v1.8M292.8,211.0v1.8M308.0,211.0v1.8" stroke="#888" stroke-width="0.7"/>
<polygon points="247.1,211.0 263.8,210.7 264.2,175.0 264.8,159.2 266.1,169.2 267.5,172.5 268.8,180.0 270.4,175.9 271.6,183.0 273.3,181.1 274.3,186.0 275.2,185.4 277.0,190.2 279.0,194.0 281.0,196.8 283.0,198.8 285.0,198.3 287.0,201.6 289.0,204.0 291.0,205.9 293.0,208.3 295.0,210.7 308.0,211.0" fill="#999"/>
<polyline points="247.1,211.0 263.5,210.7 264.2,190.0 265.2,182.1 266.5,192.1 268.0,194.0 269.5,196.4 271.0,196.8 272.3,199.7 273.5,196.4 275.0,198.8 277.6,194.5 280.0,198.8 281.5,196.4 283.6,195.4 284.6,190.2 285.7,184.4 287.6,193.0 289.0,197.8 290.5,198.8 291.9,199.7 293.0,202.6 294.3,207.8 296.2,210.2 298.0,210.7 308.0,211.0" fill="none" stroke="#000" stroke-width="1.9" stroke-linejoin="round"/>
<rect x="247.1" y="232.3" width="60.9" height="61.4" fill="#fff" stroke="#909090" stroke-width="1.15"/>
<path d="M245.6,293.7h1.5M245.6,291.1h1.5M245.6,288.6h1.5M245.6,286.0h1.5M245.6,283.5h1.5M245.6,280.9h1.5M245.6,278.4h1.5M245.6,275.8h1.5M245.6,273.2h1.5M245.6,270.7h1.5M245.6,268.1h1.5M245.6,265.6h1.5M245.6,263.0h1.5M245.6,260.4h1.5M245.6,257.9h1.5M245.6,255.3h1.5M245.6,252.8h1.5M245.6,250.2h1.5M245.6,247.7h1.5M245.6,245.1h1.5M245.6,242.5h1.5M245.6,240.0h1.5M245.6,237.4h1.5M245.6,234.9h1.5M245.6,232.3h1.5" stroke="#666" stroke-width="0.6"/>
<text x="244.7" y="295.0" font-size="3.6" text-anchor="end" fill="#777">0</text>
<text x="244.7" y="274.5" font-size="3.6" text-anchor="end" fill="#777">5</text>
<text x="244.7" y="254.1" font-size="3.6" text-anchor="end" fill="#777">10</text>
<text x="244.7" y="233.6" font-size="3.6" text-anchor="end" fill="#777">15</text>
<text transform="translate(247.3,299.3) rotate(-30)" font-size="3.3" text-anchor="middle" fill="#777">10<tspan font-size="2.6" dy="-1.4">0</tspan></text>
<text transform="translate(262.5,299.3) rotate(-30)" font-size="3.3" text-anchor="middle" fill="#777">10<tspan font-size="2.6" dy="-1.4">1</tspan></text>
<text transform="translate(277.8,299.3) rotate(-30)" font-size="3.3" text-anchor="middle" fill="#777">10<tspan font-size="2.6" dy="-1.4">2</tspan></text>
<text transform="translate(293.0,299.3) rotate(-30)" font-size="3.3" text-anchor="middle" fill="#777">10<tspan font-size="2.6" dy="-1.4">3</tspan></text>
<text transform="translate(308.2,299.3) rotate(-30)" font-size="3.3" text-anchor="middle" fill="#777">10<tspan font-size="2.6" dy="-1.4">4</tspan></text>
<path d="M247.1,293.7v1.8M262.3,293.7v1.8M277.6,293.7v1.8M292.8,293.7v1.8M308.0,293.7v1.8" stroke="#888" stroke-width="0.7"/>
<polygon points="247.1,293.7 264.8,293.5 265.2,270.0 266.1,265.7 267.5,269.5 269.0,278.8 271.0,280.7 272.5,281.5 274.0,283.4 275.5,284.9 277.0,288.0 278.0,288.8 278.5,288.0 279.5,291.8 281.0,292.6 281.8,290.7 283.0,293.5 308.0,293.7" fill="#999"/>
<polyline points="247.1,293.7 264.5,293.5 265.5,282.0 267.1,274.2 268.8,276.8 270.2,280.3 271.5,278.9 273.4,278.2 274.5,277.2 275.9,267.2 277.2,274.2 278.4,278.4 279.7,284.2 280.9,282.6 282.5,281.2 283.8,282.5 285.1,285.7 286.6,286.6 288.2,287.1 289.5,287.6 290.5,288.8 291.5,291.1 292.6,293.5 308.0,293.7" fill="none" stroke="#000" stroke-width="1.9" stroke-linejoin="round"/>
<rect x="253.0" y="397.2" width="61.7" height="62.8" fill="#fff" stroke="#909090" stroke-width="1.15"/>
<path d="M251.5,460.0h1.5M251.5,457.4h1.5M251.5,454.8h1.5M251.5,452.1h1.5M251.5,449.5h1.5M251.5,446.9h1.5M251.5,444.3h1.5M251.5,441.7h1.5M251.5,439.1h1.5M251.5,436.4h1.5M251.5,433.8h1.5M251.5,431.2h1.5M251.5,428.6h1.5M251.5,426.0h1.5M251.5,423.4h1.5M251.5,420.8h1.5M251.5,418.1h1.5M251.5,415.5h1.5M251.5,412.9h1.5M251.5,410.3h1.5M251.5,407.7h1.5M251.5,405.1h1.5M251.5,402.4h1.5M251.5,399.8h1.5M251.5,397.2h1.5" stroke="#666" stroke-width="0.6"/>
<text x="250.6" y="461.3" font-size="3.6" text-anchor="end" fill="#777">0</text>
<text x="250.6" y="440.4" font-size="3.6" text-anchor="end" fill="#777">5</text>
<text x="250.6" y="419.4" font-size="3.6" text-anchor="end" fill="#777">10</text>
<text x="250.6" y="398.5" font-size="3.6" text-anchor="end" fill="#777">15</text>
<text transform="translate(253.2,465.6) rotate(-30)" font-size="3.3" text-anchor="middle" fill="#777">10<tspan font-size="2.6" dy="-1.4">0</tspan></text>
<text transform="translate(268.6,465.6) rotate(-30)" font-size="3.3" text-anchor="middle" fill="#777">10<tspan font-size="2.6" dy="-1.4">1</tspan></text>
<text transform="translate(284.1,465.6) rotate(-30)" font-size="3.3" text-anchor="middle" fill="#777">10<tspan font-size="2.6" dy="-1.4">2</tspan></text>
<text transform="translate(299.5,465.6) rotate(-30)" font-size="3.3" text-anchor="middle" fill="#777">10<tspan font-size="2.6" dy="-1.4">3</tspan></text>
<text transform="translate(314.9,465.6) rotate(-30)" font-size="3.3" text-anchor="middle" fill="#777">10<tspan font-size="2.6" dy="-1.4">4</tspan></text>
<path d="M253.0,460.0v1.8M268.4,460.0v1.8M283.9,460.0v1.8M299.3,460.0v1.8M314.7,460.0v1.8" stroke="#888" stroke-width="0.7"/>
<polygon points="253.0,460.0 275.0,459.9 275.6,440.0 276.3,416.2 277.3,430.8 279.2,428.7 280.0,439.0 282.0,448.0 284.0,452.5 286.0,454.5 288.0,456.5 290.0,457.5 292.0,458.5 293.0,459.9 314.7,460.0" fill="#999"/>
<polyline points="253.0,460.0 274.5,459.9 275.3,450.0 276.3,443.7 277.5,444.9 279.1,447.0 280.5,442.0 281.3,444.9 283.0,450.7 284.5,454.0 286.5,453.2 288.6,455.3 290.4,455.6 292.1,457.8 294.6,459.9 314.7,460.0" fill="none" stroke="#000" stroke-width="1.9" stroke-linejoin="round"/>
<rect x="253.0" y="480.0" width="61.7" height="62.7" fill="#fff" stroke="#909090" stroke-width="1.15"/>
<path d="M251.5,542.7h1.5M251.5,540.1h1.5M251.5,537.5h1.5M251.5,534.9h1.5M251.5,532.2h1.5M251.5,529.6h1.5M251.5,527.0h1.5M251.5,524.4h1.5M251.5,521.8h1.5M251.5,519.2h1.5M251.5,516.6h1.5M251.5,514.0h1.5M251.5,511.4h1.5M251.5,508.7h1.5M251.5,506.1h1.5M251.5,503.5h1.5M251.5,500.9h1.5M251.5,498.3h1.5M251.5,495.7h1.5M251.5,493.1h1.5M251.5,490.4h1.5M251.5,487.8h1.5M251.5,485.2h1.5M251.5,482.6h1.5M251.5,480.0h1.5" stroke="#666" stroke-width="0.6"/>
<text x="250.6" y="544.0" font-size="3.6" text-anchor="end" fill="#777">0</text>
<text x="250.6" y="523.1" font-size="3.6" text-anchor="end" fill="#777">5</text>
<text x="250.6" y="502.2" font-size="3.6" text-anchor="end" fill="#777">10</text>
<text x="250.6" y="481.3" font-size="3.6" text-anchor="end" fill="#777">15</text>
<text transform="translate(253.2,548.3) rotate(-30)" font-size="3.3" text-anchor="middle" fill="#777">10<tspan font-size="2.6" dy="-1.4">0</tspan></text>
<text transform="translate(268.6,548.3) rotate(-30)" font-size="3.3" text-anchor="middle" fill="#777">10<tspan font-size="2.6" dy="-1.4">1</tspan></text>
<text transform="translate(284.1,548.3) rotate(-30)" font-size="3.3" text-anchor="middle" fill="#777">10<tspan font-size="2.6" dy="-1.4">2</tspan></text>
<text transform="translate(299.5,548.3) rotate(-30)" font-size="3.3" text-anchor="middle" fill="#777">10<tspan font-size="2.6" dy="-1.4">3</tspan></text>
<text transform="translate(314.9,548.3) rotate(-30)" font-size="3.3" text-anchor="middle" fill="#777">10<tspan font-size="2.6" dy="-1.4">4</tspan></text>
<path d="M253.0,542.7v1.8M268.4,542.7v1.8M283.9,542.7v1.8M299.3,542.7v1.8M314.7,542.7v1.8" stroke="#888" stroke-width="0.7"/>
<polygon points="253.0,542.7 268.0,542.5 268.6,515.0 269.3,499.3 270.2,515.0 271.0,521.0 273.0,527.0 275.0,520.0 276.5,524.5 278.0,525.0 280.0,519.0 281.5,524.0 283.0,528.5 284.5,524.0 286.0,520.5 287.5,527.5 289.0,524.0 290.5,523.5 292.0,531.0 294.0,533.0 297.0,535.5 300.0,540.0 302.0,542.5 314.7,542.7" fill="#999"/>
<polyline points="253.0,542.7 267.8,542.5 268.4,522.0 269.1,515.2 270.1,520.5 271.3,515.2 272.8,527.2 275.1,518.8 276.6,524.1 278.4,524.5 280.1,517.0 281.0,518.3 282.5,511.3 284.0,515.7 285.2,520.5 286.8,517.0 288.4,514.4 289.9,516.6 290.8,519.7 291.6,517.2 292.8,517.9 293.9,523.2 294.7,527.6 297.0,532.1 299.0,537.4 300.9,540.0 303.2,541.6 305.0,542.5 314.7,542.7" fill="none" stroke="#000" stroke-width="1.9" stroke-linejoin="round"/>
<rect x="253.0" y="562.8" width="61.7" height="62.8" fill="#fff" stroke="#909090" stroke-width="1.15"/>
<path d="M251.5,625.6h1.5M251.5,623.0h1.5M251.5,620.4h1.5M251.5,617.8h1.5M251.5,615.1h1.5M251.5,612.5h1.5M251.5,609.9h1.5M251.5,607.3h1.5M251.5,604.7h1.5M251.5,602.0h1.5M251.5,599.4h1.5M251.5,596.8h1.5M251.5,594.2h1.5M251.5,591.6h1.5M251.5,589.0h1.5M251.5,586.4h1.5M251.5,583.7h1.5M251.5,581.1h1.5M251.5,578.5h1.5M251.5,575.9h1.5M251.5,573.3h1.5M251.5,570.6h1.5M251.5,568.0h1.5M251.5,565.4h1.5M251.5,562.8h1.5" stroke="#666" stroke-width="0.6"/>
<text x="250.6" y="626.9" font-size="3.6" text-anchor="end" fill="#777">0</text>
<text x="250.6" y="606.0" font-size="3.6" text-anchor="end" fill="#777">5</text>
<text x="250.6" y="585.0" font-size="3.6" text-anchor="end" fill="#777">10</text>
<text x="250.6" y="564.1" font-size="3.6" text-anchor="end" fill="#777">15</text>
<text transform="translate(253.2,631.2) rotate(-30)" font-size="3.3" text-anchor="middle" fill="#777">10<tspan font-size="2.6" dy="-1.4">0</tspan></text>
<text transform="translate(268.6,631.2) rotate(-30)" font-size="3.3" text-anchor="middle" fill="#777">10<tspan font-size="2.6" dy="-1.4">1</tspan></text>
<text transform="translate(284.1,631.2) rotate(-30)" font-size="3.3" text-anchor="middle" fill="#777">10<tspan font-size="2.6" dy="-1.4">2</tspan></text>
<text transform="translate(299.5,631.2) rotate(-30)" font-size="3.3" text-anchor="middle" fill="#777">10<tspan font-size="2.6" dy="-1.4">3</tspan></text>
<text transform="translate(314.9,631.2) rotate(-30)" font-size="3.3" text-anchor="middle" fill="#777">10<tspan font-size="2.6" dy="-1.4">4</tspan></text>
<path d="M253.0,625.6v1.8M268.4,625.6v1.8M283.9,625.6v1.8M299.3,625.6v1.8M314.7,625.6v1.8" stroke="#888" stroke-width="0.7"/>
<polygon points="253.0,625.6 272.0,625.6 272.8,614.0 274.0,612.0 275.0,617.0 276.5,614.0 277.5,612.0 279.0,615.0 281.0,613.0 283.0,616.0 285.0,617.5 288.0,618.5 290.0,620.0 293.0,623.0 296.0,625.0 298.0,625.6 314.7,625.6" fill="#999"/>
<polyline points="253.0,625.6 271.8,625.6 272.5,612.0 273.3,607.7 275.9,613.5 278.1,609.5 279.5,614.6 281.4,611.7 283.2,615.4 285.0,616.5 287.2,616.8 288.3,616.8 289.8,619.4 291.6,620.9 293.4,622.7 295.2,622.3 296.7,623.8 298.5,624.9 300.4,625.5 302.0,625.6 314.7,625.6" fill="none" stroke="#000" stroke-width="1.9" stroke-linejoin="round"/>
<text x="397.4" y="124.4" font-size="5.3" text-anchor="end" stroke="#000" stroke-width="0.15">0</text>
<text x="397.4" y="113.5" font-size="5.3" text-anchor="end" stroke="#000" stroke-width="0.15">5</text>
<text x="397.4" y="102.5" font-size="5.3" text-anchor="end" stroke="#000" stroke-width="0.15">10</text>
<text x="397.4" y="91.6" font-size="5.3" text-anchor="end" stroke="#000" stroke-width="0.15">15</text>
<text x="397.4" y="80.6" font-size="5.3" text-anchor="end" stroke="#000" stroke-width="0.15">20</text>
<text x="397.4" y="69.7" font-size="5.3" text-anchor="end" stroke="#000" stroke-width="0.15">25</text>
<text x="397.4" y="58.7" font-size="5.3" text-anchor="end" stroke="#000" stroke-width="0.15">30</text>
<text x="397.4" y="47.8" font-size="5.3" text-anchor="end" stroke="#000" stroke-width="0.15">35</text>
<path d="M397.5,121.2H401.0M397.5,110.3H401.0M397.5,99.3H401.0M397.5,88.4H401.0M397.5,77.4H401.0M397.5,66.5H401.0M397.5,55.5H401.0M397.5,44.6H401.0" stroke="#000" stroke-width="1.5"/>
<path d="M413.2,105.8V103.5M410.1,103.5h6.2" stroke="#000" stroke-width="1.3"/>
<rect x="408.5" y="106.5" width="9.4" height="15.4" fill="#fff" stroke="#000" stroke-width="1.4"/>
<path d="M427.5,112.3V111.6M424.4,111.6h6.2" stroke="#000" stroke-width="1.3"/>
<rect x="422.9" y="113.0" width="9.2" height="8.9" fill="#000" stroke="#000" stroke-width="1.4"/>
<path d="M451.5,85.2V80.1M448.4,80.1h6.2" stroke="#000" stroke-width="1.3"/>
<rect x="446.8" y="85.9" width="9.3" height="36.0" fill="#fff" stroke="#000" stroke-width="1.4"/>
<path d="M465.6,89.9V86.8M462.5,86.8h6.2" stroke="#000" stroke-width="1.3"/>
<rect x="460.9" y="90.6" width="9.4" height="31.3" fill="#000" stroke="#000" stroke-width="1.4"/>
<path d="M489.6,85.9V84.1M486.5,84.1h6.2" stroke="#000" stroke-width="1.3"/>
<rect x="485.1" y="86.6" width="9.1" height="35.3" fill="#fff" stroke="#000" stroke-width="1.4"/>
<path d="M503.7,109.7V106.3M500.6,106.3h6.2" stroke="#000" stroke-width="1.3"/>
<rect x="498.8" y="110.4" width="9.8" height="11.5" fill="#000" stroke="#000" stroke-width="1.4"/>
<path d="M401.0,43.9V122.2M400.0,121.2H516.5" stroke="#000" stroke-width="2"/>
<path d="M420.3,121.2v3.3M458.3,121.2v3.3M496.3,121.2v3.3" stroke="#000" stroke-width="1.3"/>
<text x="420.3" y="129.8" font-size="5.6" text-anchor="middle">5</text>
<text x="458.3" y="129.8" font-size="5.6" text-anchor="middle">9</text>
<text x="496.3" y="129.8" font-size="5.6" text-anchor="middle">11</text>
<text x="456.0" y="138.0" font-size="6.35" text-anchor="middle">Weeks post-infection</text>
<text transform="translate(380.4,83.5) rotate(-90)" font-size="6.3" text-anchor="middle">% IFN-&#947; +</text>
<text transform="translate(388.4,83.5) rotate(-90)" font-size="6.3" text-anchor="middle">(CD4 gate)</text>
<rect x="409.7" y="47.2" width="10.6" height="3.8" fill="#fff" stroke="#000" stroke-width="1.4"/>
<text x="422.4" y="51.1" font-size="6.2">WT</text>
<rect x="409.7" y="55.8" width="10.6" height="3.8" fill="#000" stroke="#000" stroke-width="1.4"/>
<text x="422.6" y="59.9" font-size="6.2">T-bet-/-</text>
<text x="485.8" y="63.1" font-size="6.1">p=0.002</text>
<path d="M487.7,78.8V70.1Q487.7,68.5 489.3,68.5H504.9Q506.5,68.5 506.5,70.1V78.8" fill="none" stroke="#222" stroke-width="1.3"/>
<text x="397.7" y="448.0" font-size="5.3" text-anchor="end" stroke="#000" stroke-width="0.15">0</text>
<text x="397.7" y="437.1" font-size="5.3" text-anchor="end" stroke="#000" stroke-width="0.15">5</text>
<text x="397.7" y="426.2" font-size="5.3" text-anchor="end" stroke="#000" stroke-width="0.15">10</text>
<text x="397.7" y="415.3" font-size="5.3" text-anchor="end" stroke="#000" stroke-width="0.15">15</text>
<text x="397.7" y="404.4" font-size="5.3" text-anchor="end" stroke="#000" stroke-width="0.15">20</text>
<text x="397.7" y="393.5" font-size="5.3" text-anchor="end" stroke="#000" stroke-width="0.15">25</text>
<text x="397.7" y="382.6" font-size="5.3" text-anchor="end" stroke="#000" stroke-width="0.15">30</text>
<text x="397.7" y="371.7" font-size="5.3" text-anchor="end" stroke="#000" stroke-width="0.15">35</text>
<path d="M397.8,444.8H401.3M397.8,433.9H401.3M397.8,423.0H401.3M397.8,412.1H401.3M397.8,401.2H401.3M397.8,390.3H401.3M397.8,379.4H401.3M397.8,368.5H401.3" stroke="#000" stroke-width="1.5"/>
<path d="M413.2,435.3V434.6M410.1,434.6h6.2" stroke="#000" stroke-width="1.3"/>
<rect x="408.8" y="436.0" width="8.9" height="9.5" fill="#fff" stroke="#000" stroke-width="1.4"/>
<path d="M427.5,436.8V436.2M424.4,436.2h6.2" stroke="#000" stroke-width="1.3"/>
<rect x="423.1" y="437.5" width="8.9" height="8.0" fill="#000" stroke="#000" stroke-width="1.4"/>
<path d="M451.6,383.9V378.8M448.5,378.8h6.2" stroke="#000" stroke-width="1.3"/>
<rect x="447.2" y="384.6" width="8.9" height="60.9" fill="#fff" stroke="#000" stroke-width="1.4"/>
<path d="M465.8,410.4V408.1M462.7,408.1h6.2" stroke="#000" stroke-width="1.3"/>
<rect x="461.1" y="411.1" width="9.4" height="34.4" fill="#000" stroke="#000" stroke-width="1.4"/>
<path d="M489.4,416.9V416.2M486.3,416.2h6.2" stroke="#000" stroke-width="1.3"/>
<rect x="485.2" y="417.6" width="8.5" height="27.9" fill="#fff" stroke="#000" stroke-width="1.4"/>
<path d="M503.7,438.1V436.0M500.6,436.0h6.2" stroke="#000" stroke-width="1.3"/>
<rect x="499.0" y="438.8" width="9.4" height="6.7" fill="#000" stroke="#000" stroke-width="1.4"/>
<path d="M401.3,367.8V445.8M400.3,444.8H516.5" stroke="#000" stroke-width="2"/>
<path d="M420.3,444.8v3.3M458.3,444.8v3.3M496.3,444.8v3.3" stroke="#000" stroke-width="1.3"/>
<text x="420.3" y="453.4" font-size="5.6" text-anchor="middle">5</text>
<text x="458.3" y="453.4" font-size="5.6" text-anchor="middle">9</text>
<text x="496.3" y="453.4" font-size="5.6" text-anchor="middle">11</text>
<text x="456.0" y="461.6" font-size="6.35" text-anchor="middle">Weeks post-infection</text>
<text transform="translate(380.4,407.2) rotate(-90)" font-size="6.3" text-anchor="middle">% IFN-&#947;+</text>
<text transform="translate(388.4,407.2) rotate(-90)" font-size="6.3" text-anchor="middle">(CD8 gate)</text>
<rect x="407.2" y="363.7" width="10.6" height="3.8" fill="#fff" stroke="#000" stroke-width="1.4"/>
<text x="419.8" y="367.6" font-size="6.2">WT</text>
<rect x="407.2" y="371.6" width="10.6" height="3.8" fill="#000" stroke="#000" stroke-width="1.4"/>
<text x="420.0" y="375.7" font-size="6.2">T-bet-/-</text>
<text x="452.5" y="356.4" font-size="6.1">p=0.01</text>
<path d="M453.2,373.5V364.9Q453.2,363.3 454.8,363.3H468.6Q470.2,363.3 470.2,364.9V373.5" fill="none" stroke="#222" stroke-width="1.3"/>
<text x="489.7" y="392.3" font-size="6.1">p=0.001</text>
<path d="M492.4,408.9V400.5Q492.4,398.9 494.0,398.9H508.0Q509.6,398.9 509.6,400.5V408.9" fill="none" stroke="#222" stroke-width="1.3"/>
<text x="458.3" y="163.8" font-size="7.0" text-anchor="middle">IFN-&#947; MFI</text>
<text x="457.9" y="171.9" font-size="7.2" text-anchor="middle">(CD4 gate)</text>
<text x="397.8" y="261.1" font-size="5.9" text-anchor="end">0</text>
<text x="397.8" y="248.4" font-size="5.9" text-anchor="end">50</text>
<text x="397.8" y="235.7" font-size="5.9" text-anchor="end">100</text>
<text x="397.8" y="223.0" font-size="5.9" text-anchor="end">150</text>
<text x="397.8" y="210.3" font-size="5.9" text-anchor="end">200</text>
<text x="397.8" y="197.6" font-size="5.9" text-anchor="end">250</text>
<text x="397.8" y="184.9" font-size="5.9" text-anchor="end">300</text>
<text x="401.2" y="267.1" font-size="5.9" text-anchor="middle">0</text>
<text x="420.2" y="267.1" font-size="5.9" text-anchor="middle">2</text>
<text x="439.2" y="267.1" font-size="5.9" text-anchor="middle">4</text>
<text x="458.2" y="267.1" font-size="5.9" text-anchor="middle">6</text>
<text x="477.2" y="267.1" font-size="5.9" text-anchor="middle">8</text>
<text x="496.2" y="267.1" font-size="5.9" text-anchor="middle">10</text>
<text x="515.2" y="267.1" font-size="5.9" text-anchor="middle">12</text>
<path d="M397.7,258.5H401.2M397.7,245.8H401.2M397.7,233.1H401.2M397.7,220.4H401.2M397.7,207.7H401.2M397.7,195.0H401.2M397.7,182.3H401.2M401.2,258.5v3.3M420.2,258.5v3.3M439.2,258.5v3.3M458.2,258.5v3.3M477.2,258.5v3.3M496.2,258.5v3.3M515.2,258.5v3.3" stroke="#000" stroke-width="1.3"/>
<path d="M401.2,181.6V259.5M400.2,258.5H516.4" stroke="#000" stroke-width="1.9"/>
<text x="456.0" y="274.9" font-size="6.3" text-anchor="middle">Weeks post-infection</text>
<text transform="translate(383.8,221.2) rotate(-90)" font-size="6.3" text-anchor="middle">MFI</text>
<polyline points="448.7,243.3 486.7,229.8 505.7,245.3" fill="none" stroke="#111" stroke-width="1.1"/>
<polyline points="448.7,231.6 486.7,191.7 505.7,224.2" fill="none" stroke="#111" stroke-width="1.1"/>
<path d="M486.7,187.6V195.6M484.5,187.6h4.4M484.5,195.6h4.4" stroke="#333" stroke-width="1.2"/>
<rect x="447.1" y="241.5" width="3.8" height="3.7" fill="#000"/>
<rect x="485.1" y="228.0" width="3.8" height="3.7" fill="#000"/>
<rect x="504.1" y="243.5" width="3.8" height="3.7" fill="#000"/>
<path d="M446.7,230.0H450.7L448.7,233.9Z" fill="#fff" stroke="#000" stroke-width="1.4" stroke-linejoin="miter"/>
<path d="M484.7,190.1H488.7L486.7,194.0Z" fill="#fff" stroke="#000" stroke-width="1.4" stroke-linejoin="miter"/>
<path d="M503.7,222.6H507.7L505.7,226.5Z" fill="#fff" stroke="#000" stroke-width="1.4" stroke-linejoin="miter"/>
<rect x="409.2" y="181.1" width="3.7" height="3.5" fill="#000"/>
<text x="418.1" y="184.6" font-size="6.3">T-bet-/-</text>
<path d="M409.1,190.0H413.1L411.1,193.9Z" fill="#fff" stroke="#000" stroke-width="1.4" stroke-linejoin="miter"/>
<text x="418.1" y="193.7" font-size="6.3">WT</text>
<text x="435.1" y="225.4" font-size="5.6">p=0.03</text>
<text x="477.3" y="182.0" font-size="5.6">p=0.03</text>
<text x="502.8" y="214.7" font-size="5.6">p=0.03</text>
<text x="458.3" y="485.0" font-size="7.0" text-anchor="middle">IFN-&#947; MFI</text>
<text x="457.9" y="493.2" font-size="7.2" text-anchor="middle">(CD8 gate)</text>
<text x="397.8" y="582.2" font-size="5.9" text-anchor="end">0</text>
<text x="397.8" y="569.5" font-size="5.9" text-anchor="end">50</text>
<text x="397.8" y="556.8" font-size="5.9" text-anchor="end">100</text>
<text x="397.8" y="544.1" font-size="5.9" text-anchor="end">150</text>
<text x="397.8" y="531.4" font-size="5.9" text-anchor="end">200</text>
<text x="397.8" y="518.7" font-size="5.9" text-anchor="end">250</text>
<text x="397.8" y="506.0" font-size="5.9" text-anchor="end">300</text>
<text x="401.2" y="588.2" font-size="5.9" text-anchor="middle">0</text>
<text x="420.2" y="588.2" font-size="5.9" text-anchor="middle">2</text>
<text x="439.2" y="588.2" font-size="5.9" text-anchor="middle">4</text>
<text x="458.2" y="588.2" font-size="5.9" text-anchor="middle">6</text>
<text x="477.2" y="588.2" font-size="5.9" text-anchor="middle">8</text>
<text x="496.2" y="588.2" font-size="5.9" text-anchor="middle">10</text>
<text x="515.2" y="588.2" font-size="5.9" text-anchor="middle">12</text>
<path d="M397.7,579.6H401.2M397.7,566.9H401.2M397.7,554.2H401.2M397.7,541.5H401.2M397.7,528.8H401.2M397.7,516.1H401.2M397.7,503.4H401.2M401.2,579.6v3.3M420.2,579.6v3.3M439.2,579.6v3.3M458.2,579.6v3.3M477.2,579.6v3.3M496.2,579.6v3.3M515.2,579.6v3.3" stroke="#000" stroke-width="1.3"/>
<path d="M401.2,502.7V580.6M400.2,579.6H516.4" stroke="#000" stroke-width="1.9"/>
<text x="456.0" y="596.0" font-size="6.3" text-anchor="middle">Weeks post-infection</text>
<text transform="translate(383.8,542.3) rotate(-90)" font-size="6.3" text-anchor="middle">MFI</text>
<polyline points="448.7,563.1 486.7,530.6 505.7,560.5" fill="none" stroke="#111" stroke-width="1.1"/>
<polyline points="448.7,554.5 486.7,533.4 505.7,557.0" fill="none" stroke="#111" stroke-width="1.1"/>
<path d="M486.7,525.8V535.0M484.5,525.8h4.4M484.5,535.0h4.4" stroke="#333" stroke-width="1.2"/>
<rect x="447.1" y="561.3" width="3.8" height="3.7" fill="#000"/>
<rect x="485.1" y="528.8" width="3.8" height="3.7" fill="#000"/>
<rect x="504.1" y="558.8" width="3.8" height="3.7" fill="#000"/>
<path d="M446.7,552.9H450.7L448.7,556.8Z" fill="#fff" stroke="#000" stroke-width="1.4" stroke-linejoin="miter"/>
<path d="M484.7,531.8H488.7L486.7,535.7Z" fill="#fff" stroke="#000" stroke-width="1.4" stroke-linejoin="miter"/>
<path d="M503.7,555.4H507.7L505.7,559.3Z" fill="#fff" stroke="#000" stroke-width="1.4" stroke-linejoin="miter"/>
<rect x="406.4" y="502.2" width="3.7" height="3.5" fill="#000"/>
<text x="416.2" y="505.7" font-size="6.3">T-bet-/-</text>
<path d="M406.3,511.1H410.3L408.3,515.0Z" fill="#fff" stroke="#000" stroke-width="1.4" stroke-linejoin="miter"/>
<text x="416.2" y="514.8" font-size="6.3">WT</text>
</svg>
</body></html>
